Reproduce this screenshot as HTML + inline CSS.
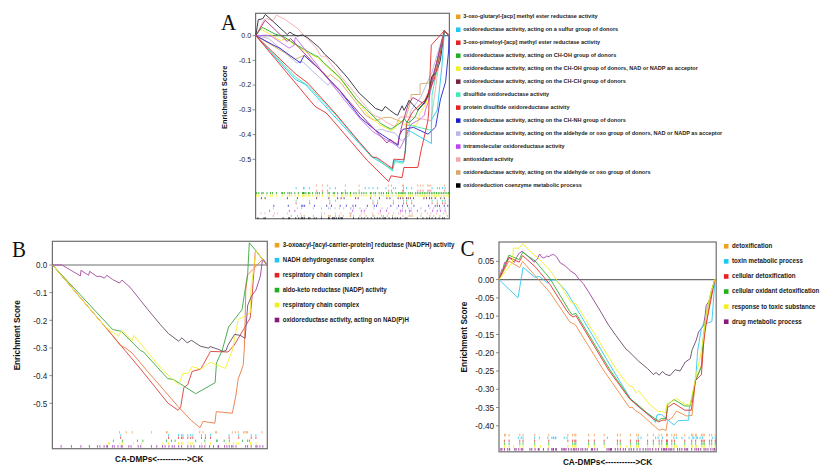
<!DOCTYPE html>
<html><head><meta charset="utf-8"><style>
html,body{margin:0;padding:0;background:#fff;width:827px;height:472px;overflow:hidden}
svg{display:block;font-family:"Liberation Sans", sans-serif}
</style></head><body>
<svg width="827" height="472" viewBox="0 0 827 472">
<text transform="translate(221 29.6) scale(0.9009 1)" font-size="23.3" font-family="Liberation Serif, serif" fill="#111">A</text>
<rect x="255.6" y="13.3" width="193.79999999999998" height="205.39999999999998" fill="none" stroke="#6e6e6e" stroke-width="1.2"/>
<line x1="255.6" y1="35.6" x2="449.4" y2="35.6" stroke="#6e6e6e" stroke-width="1.2"/>
<line x1="252.6" y1="35.6" x2="255.6" y2="35.6" stroke="#6e6e6e" stroke-width="0.8"/>
<text transform="translate(251.20 37.99) scale(0.9434 1)" font-size="7.53" text-anchor="end" fill="#222">0.0</text>
<line x1="252.6" y1="60.35" x2="255.6" y2="60.35" stroke="#6e6e6e" stroke-width="0.8"/>
<text transform="translate(251.20 62.74) scale(0.9434 1)" font-size="7.53" text-anchor="end" fill="#222">-0.1</text>
<line x1="252.6" y1="85.1" x2="255.6" y2="85.1" stroke="#6e6e6e" stroke-width="0.8"/>
<text transform="translate(251.20 87.49) scale(0.9434 1)" font-size="7.53" text-anchor="end" fill="#222">-0.2</text>
<line x1="252.6" y1="109.85" x2="255.6" y2="109.85" stroke="#6e6e6e" stroke-width="0.8"/>
<text transform="translate(251.20 112.24) scale(0.9434 1)" font-size="7.53" text-anchor="end" fill="#222">-0.3</text>
<line x1="252.6" y1="134.6" x2="255.6" y2="134.6" stroke="#6e6e6e" stroke-width="0.8"/>
<text transform="translate(251.20 136.99) scale(0.9434 1)" font-size="7.53" text-anchor="end" fill="#222">-0.4</text>
<line x1="252.6" y1="159.35" x2="255.6" y2="159.35" stroke="#6e6e6e" stroke-width="0.8"/>
<text transform="translate(251.20 161.74) scale(0.9434 1)" font-size="7.53" text-anchor="end" fill="#222">-0.5</text>
<text transform="translate(227.36 97.30) rotate(-90) scale(0.9615 1)" font-size="7.70" text-anchor="middle" font-weight="bold" fill="#111">Enrichment Score</text>
<rect x="456.0" y="14.50" width="4.5" height="4.5" fill="#f0a020"/>
<text transform="translate(463.20 18.34) scale(1.0000 1)" font-size="5.55" text-anchor="start" font-weight="bold" fill="#222">3-oxo-glutaryl-[acp] methyl ester reductase activity</text>
<rect x="456.0" y="27.48" width="4.5" height="4.5" fill="#20c8f0"/>
<text transform="translate(463.20 31.32) scale(1.0000 1)" font-size="5.55" text-anchor="start" font-weight="bold" fill="#222">oxidoreductase activity, acting on a sulfur group of donors</text>
<rect x="456.0" y="40.46" width="4.5" height="4.5" fill="#e82020"/>
<text transform="translate(463.20 44.30) scale(1.0000 1)" font-size="5.55" text-anchor="start" font-weight="bold" fill="#222">3-oxo-pimeloyl-[acp] methyl ester reductase activity</text>
<rect x="456.0" y="53.44" width="4.5" height="4.5" fill="#20b020"/>
<text transform="translate(463.20 57.28) scale(1.0000 1)" font-size="5.55" text-anchor="start" font-weight="bold" fill="#222">oxidoreductase activity, acting on CH-OH group of donors</text>
<rect x="456.0" y="66.42" width="4.5" height="4.5" fill="#f0f020"/>
<text transform="translate(463.20 70.26) scale(1.0000 1)" font-size="5.55" text-anchor="start" font-weight="bold" fill="#222">oxidoreductase activity, acting on the CH-OH group of donors, NAD or NADP as acceptor</text>
<rect x="456.0" y="79.40" width="4.5" height="4.5" fill="#7a1f3d"/>
<text transform="translate(463.20 83.24) scale(1.0000 1)" font-size="5.55" text-anchor="start" font-weight="bold" fill="#222">oxidoreductase activity, acting on the CH-CH group of donors</text>
<rect x="456.0" y="92.38" width="4.5" height="4.5" fill="#40e8b8"/>
<text transform="translate(463.20 96.22) scale(1.0000 1)" font-size="5.55" text-anchor="start" font-weight="bold" fill="#222">disulfide oxidoreductase activity</text>
<rect x="456.0" y="105.36" width="4.5" height="4.5" fill="#e82020"/>
<text transform="translate(463.20 109.20) scale(1.0000 1)" font-size="5.55" text-anchor="start" font-weight="bold" fill="#222">protein disulfide oxidoreductase activity</text>
<rect x="456.0" y="118.34" width="4.5" height="4.5" fill="#1c1cc8"/>
<text transform="translate(463.20 122.18) scale(1.0000 1)" font-size="5.55" text-anchor="start" font-weight="bold" fill="#222">oxidoreductase activity, acting on the CH-NH group of donors</text>
<rect x="456.0" y="131.32" width="4.5" height="4.5" fill="#b8b8e8"/>
<text transform="translate(463.20 135.16) scale(1.0000 1)" font-size="5.55" text-anchor="start" font-weight="bold" fill="#222">oxidoreductase activity, acting on the aldehyde or oxo group of donors, NAD or NADP as acceptor</text>
<rect x="456.0" y="144.30" width="4.5" height="4.5" fill="#c040f0"/>
<text transform="translate(463.20 148.14) scale(1.0000 1)" font-size="5.55" text-anchor="start" font-weight="bold" fill="#222">intramolecular oxidoreductase activity</text>
<rect x="456.0" y="157.28" width="4.5" height="4.5" fill="#f4a8a8"/>
<text transform="translate(463.20 161.12) scale(1.0000 1)" font-size="5.55" text-anchor="start" font-weight="bold" fill="#222">antioxidant activity</text>
<rect x="456.0" y="170.26" width="4.5" height="4.5" fill="#d8a868"/>
<text transform="translate(463.20 174.10) scale(1.0000 1)" font-size="5.55" text-anchor="start" font-weight="bold" fill="#222">oxidoreductase activity, acting on the aldehyde or oxo group of donors</text>
<rect x="456.0" y="183.24" width="4.5" height="4.5" fill="#000000"/>
<text transform="translate(463.20 187.08) scale(1.0000 1)" font-size="5.55" text-anchor="start" font-weight="bold" fill="#222">oxidoreduction coenzyme metabolic process</text>
<text transform="translate(12 256.7) scale(0.9009 1)" font-size="23.3" font-family="Liberation Serif, serif" fill="#111">B</text>
<rect x="52.4" y="241.3" width="214.9" height="207.39999999999998" fill="none" stroke="#6e6e6e" stroke-width="1.2"/>
<line x1="52.4" y1="265.0" x2="267.3" y2="265.0" stroke="#6e6e6e" stroke-width="1.2"/>
<line x1="49.4" y1="265.0" x2="52.4" y2="265.0" stroke="#6e6e6e" stroke-width="0.8"/>
<text transform="translate(47.30 268.33) scale(0.8696 1)" font-size="9.31" text-anchor="end" fill="#222">0.0</text>
<line x1="49.4" y1="292.66" x2="52.4" y2="292.66" stroke="#6e6e6e" stroke-width="0.8"/>
<text transform="translate(47.30 295.99) scale(0.8696 1)" font-size="9.31" text-anchor="end" fill="#222">-0.1</text>
<line x1="49.4" y1="320.32" x2="52.4" y2="320.32" stroke="#6e6e6e" stroke-width="0.8"/>
<text transform="translate(47.30 323.65) scale(0.8696 1)" font-size="9.31" text-anchor="end" fill="#222">-0.2</text>
<line x1="49.4" y1="347.98" x2="52.4" y2="347.98" stroke="#6e6e6e" stroke-width="0.8"/>
<text transform="translate(47.30 351.31) scale(0.8696 1)" font-size="9.31" text-anchor="end" fill="#222">-0.3</text>
<line x1="49.4" y1="375.64" x2="52.4" y2="375.64" stroke="#6e6e6e" stroke-width="0.8"/>
<text transform="translate(47.30 378.97) scale(0.8696 1)" font-size="9.31" text-anchor="end" fill="#222">-0.4</text>
<line x1="49.4" y1="403.3" x2="52.4" y2="403.3" stroke="#6e6e6e" stroke-width="0.8"/>
<text transform="translate(47.30 406.63) scale(0.8696 1)" font-size="9.31" text-anchor="end" fill="#222">-0.5</text>
<text transform="translate(20.38 335.30) rotate(-90) scale(0.8696 1)" font-size="9.43" text-anchor="middle" font-weight="bold" fill="#111">Enrichment Score</text>
<text transform="translate(159.30 461.90) scale(0.8696 1)" font-size="9.41" text-anchor="middle" font-weight="bold" fill="#111">CA-DMPs&lt;-----------&gt;CK</text>
<rect x="274.7" y="242.90" width="4.6" height="4.6" fill="#f0a020"/>
<text transform="translate(282.70 247.13) scale(0.9434 1)" font-size="6.52" text-anchor="start" font-weight="bold" fill="#1a1a1a">3-oxoacyl-[acyl-carrier-protein] reductase (NADPH) activity</text>
<rect x="274.7" y="257.90" width="4.6" height="4.6" fill="#20c8f0"/>
<text transform="translate(282.70 262.13) scale(0.9434 1)" font-size="6.52" text-anchor="start" font-weight="bold" fill="#1a1a1a">NADH dehydrogenase complex</text>
<rect x="274.7" y="272.90" width="4.6" height="4.6" fill="#e82020"/>
<text transform="translate(282.70 277.13) scale(0.9434 1)" font-size="6.52" text-anchor="start" font-weight="bold" fill="#1a1a1a">respiratory chain complex I</text>
<rect x="274.7" y="287.80" width="4.6" height="4.6" fill="#20b020"/>
<text transform="translate(282.70 292.03) scale(0.9434 1)" font-size="6.52" text-anchor="start" font-weight="bold" fill="#1a1a1a">aldo-keto reductase (NADP) activity</text>
<rect x="274.7" y="302.70" width="4.6" height="4.6" fill="#f0f020"/>
<text transform="translate(282.70 306.93) scale(0.9434 1)" font-size="6.52" text-anchor="start" font-weight="bold" fill="#1a1a1a">respiratory chain complex</text>
<rect x="274.7" y="317.70" width="4.6" height="4.6" fill="#8a1a7a"/>
<text transform="translate(282.70 321.93) scale(0.9434 1)" font-size="6.52" text-anchor="start" font-weight="bold" fill="#1a1a1a">oxidoreductase activity, acting on NAD(P)H</text>
<text transform="translate(460.4 255.6) scale(0.9009 1)" font-size="23.3" font-family="Liberation Serif, serif" fill="#111">C</text>
<rect x="499" y="242" width="217.20000000000005" height="209.8" fill="none" stroke="#6e6e6e" stroke-width="1.2"/>
<line x1="499" y1="279.6" x2="716.2" y2="279.6" stroke="#6e6e6e" stroke-width="1.2"/>
<line x1="496" y1="261.32000000000005" x2="499" y2="261.32000000000005" stroke="#6e6e6e" stroke-width="0.8"/>
<text transform="translate(494.20 264.39) scale(1.0000 1)" font-size="8.30" text-anchor="end" fill="#222">0.05</text>
<line x1="496" y1="279.6" x2="499" y2="279.6" stroke="#6e6e6e" stroke-width="0.8"/>
<text transform="translate(494.20 282.67) scale(1.0000 1)" font-size="8.30" text-anchor="end" fill="#222">0.00</text>
<line x1="496" y1="297.88" x2="499" y2="297.88" stroke="#6e6e6e" stroke-width="0.8"/>
<text transform="translate(494.20 300.95) scale(1.0000 1)" font-size="8.30" text-anchor="end" fill="#222">-0.05</text>
<line x1="496" y1="316.16" x2="499" y2="316.16" stroke="#6e6e6e" stroke-width="0.8"/>
<text transform="translate(494.20 319.23) scale(1.0000 1)" font-size="8.30" text-anchor="end" fill="#222">-0.10</text>
<line x1="496" y1="334.44000000000005" x2="499" y2="334.44000000000005" stroke="#6e6e6e" stroke-width="0.8"/>
<text transform="translate(494.20 337.51) scale(1.0000 1)" font-size="8.30" text-anchor="end" fill="#222">-0.15</text>
<line x1="496" y1="352.72" x2="499" y2="352.72" stroke="#6e6e6e" stroke-width="0.8"/>
<text transform="translate(494.20 355.79) scale(1.0000 1)" font-size="8.30" text-anchor="end" fill="#222">-0.20</text>
<line x1="496" y1="371.0" x2="499" y2="371.0" stroke="#6e6e6e" stroke-width="0.8"/>
<text transform="translate(494.20 374.07) scale(1.0000 1)" font-size="8.30" text-anchor="end" fill="#222">-0.25</text>
<line x1="496" y1="389.28000000000003" x2="499" y2="389.28000000000003" stroke="#6e6e6e" stroke-width="0.8"/>
<text transform="translate(494.20 392.35) scale(1.0000 1)" font-size="8.30" text-anchor="end" fill="#222">-0.30</text>
<line x1="496" y1="407.56000000000006" x2="499" y2="407.56000000000006" stroke="#6e6e6e" stroke-width="0.8"/>
<text transform="translate(494.20 410.63) scale(1.0000 1)" font-size="8.30" text-anchor="end" fill="#222">-0.35</text>
<line x1="496" y1="425.84000000000003" x2="499" y2="425.84000000000003" stroke="#6e6e6e" stroke-width="0.8"/>
<text transform="translate(494.20 428.91) scale(1.0000 1)" font-size="8.30" text-anchor="end" fill="#222">-0.40</text>
<text transform="translate(467.22 337.00) rotate(-90) scale(0.8696 1)" font-size="9.54" text-anchor="middle" font-weight="bold" fill="#111">Enrichment Score</text>
<text transform="translate(607.50 464.90) scale(0.8696 1)" font-size="9.49" text-anchor="middle" font-weight="bold" fill="#111">CA-DMPs&lt;-----------&gt;CK</text>
<rect x="723.9" y="244.00" width="4.6" height="4.6" fill="#f0a020"/>
<text transform="translate(732.00 248.25) scale(0.9434 1)" font-size="6.57" text-anchor="start" font-weight="bold" fill="#1a1a1a">detoxification</text>
<rect x="723.9" y="259.08" width="4.6" height="4.6" fill="#20c8f0"/>
<text transform="translate(732.00 263.33) scale(0.9434 1)" font-size="6.57" text-anchor="start" font-weight="bold" fill="#1a1a1a">toxin metabolic process</text>
<rect x="723.9" y="274.16" width="4.6" height="4.6" fill="#e82020"/>
<text transform="translate(732.00 278.41) scale(0.9434 1)" font-size="6.57" text-anchor="start" font-weight="bold" fill="#1a1a1a">cellular detoxification</text>
<rect x="723.9" y="289.24" width="4.6" height="4.6" fill="#20b020"/>
<text transform="translate(732.00 293.49) scale(0.9434 1)" font-size="6.57" text-anchor="start" font-weight="bold" fill="#1a1a1a">cellular oxidant detoxification</text>
<rect x="723.9" y="304.32" width="4.6" height="4.6" fill="#f0f020"/>
<text transform="translate(732.00 308.57) scale(0.9434 1)" font-size="6.57" text-anchor="start" font-weight="bold" fill="#1a1a1a">response to toxic substance</text>
<rect x="723.9" y="319.40" width="4.6" height="4.6" fill="#8a1a7a"/>
<text transform="translate(732.00 323.65) scale(0.9434 1)" font-size="6.57" text-anchor="start" font-weight="bold" fill="#1a1a1a">drug metabolic process</text>
<defs><linearGradient id="gB" gradientUnits="userSpaceOnUse" x1="52" y1="0" x2="267" y2="0"><stop offset="0" stop-color="#a84aa0"/><stop offset="0.36" stop-color="#a04a98"/><stop offset="0.55" stop-color="#5e4a5e"/><stop offset="0.86" stop-color="#5e4a5e"/><stop offset="0.96" stop-color="#a040a0"/></linearGradient><linearGradient id="gC" gradientUnits="userSpaceOnUse" x1="499" y1="0" x2="716" y2="0"><stop offset="0" stop-color="#a840a8"/><stop offset="0.40" stop-color="#a040a0"/><stop offset="0.54" stop-color="#644864"/><stop offset="0.88" stop-color="#644864"/><stop offset="0.98" stop-color="#9a40a0"/></linearGradient></defs>
<polyline points="255.8,35.6 268.6,38.4 297.2,63.3 300.0,61.5 303.3,62.4 328.1,85.3 330.3,82.5 375.7,130.5 382.0,129.2 386.0,131.0 395.0,133.0 401.4,140.8 409.0,135.7 410.3,111.5 420.5,97.5 432.0,72.0 444.4,30.6 449.0,35.6" fill="none" stroke="#b4b4e6" stroke-width="0.9" stroke-linejoin="round" stroke-opacity="1"/>
<polyline points="255.8,35.6 264.0,19.8 266.0,18.6 273.2,20.6 276.4,15.1 285.5,19.8 297.4,28.3 306.7,38.0 316.0,47.7 320.7,55.9 323.2,57.2 325.0,55.8 335.0,69.0 360.4,100.0 373.1,115.0 377.0,116.5 380.8,117.8 385.8,122.0 395.0,126.7 400.0,117.0 411.0,116.8 428.0,120.2 431.0,121.0 434.0,100.0 438.0,70.0 444.4,30.6 449.0,35.6" fill="none" stroke="#f6a9a9" stroke-width="0.9" stroke-linejoin="round" stroke-opacity="1"/>
<polyline points="255.8,35.6 295.3,59.1 301.6,56.5 304.2,55.3 328.3,76.9 330.2,74.3 340.0,82.0 354.0,100.0 365.5,115.0 373.1,119.7 377.0,120.3 383.3,117.8 390.0,117.2 402.0,122.0 406.0,117.0 411.1,100.0 411.1,94.5 420.1,94.5 420.1,83.9 429.7,82.8 436.0,66.0 444.4,30.6 449.0,35.6" fill="none" stroke="#d9a866" stroke-width="0.9" stroke-linejoin="round" stroke-opacity="1"/>
<polyline points="255.8,35.6 259.5,29.5 262.6,30.0 268.6,33.4 276.0,38.0 280.4,40.6 283.0,39.5 287.0,39.0 290.0,41.5 306.0,52.0 318.0,58.0 340.0,78.5 369.0,116.0 380.0,125.0 390.9,130.5 395.0,128.0 399.0,121.0 403.0,124.0 415.3,125.7 418.0,122.0 420.0,113.0 426.0,104.0 432.0,78.0 437.0,66.0 444.4,30.6 449.0,35.6" fill="none" stroke="#f2f020" stroke-width="0.9" stroke-linejoin="round" stroke-opacity="1"/>
<polyline points="255.8,35.6 261.8,27.4 263.5,28.0 275.3,34.2 283.8,36.7 288.9,40.1 295.0,44.0 306.7,50.8 315.6,55.9 318.1,56.5 323.2,62.2 340.0,77.5 356.6,100.0 370.0,113.0 380.8,123.5 385.0,126.0 390.9,129.2 396.4,125.5 401.4,122.3 404.2,118.5 407.6,123.1 411.0,121.0 415.0,117.0 419.2,107.7 424.0,104.0 429.4,95.0 436.0,66.0 444.4,30.6 449.0,35.6" fill="none" stroke="#22b022" stroke-width="0.9" stroke-linejoin="round" stroke-opacity="1"/>
<polyline points="255.8,35.6 265.8,35.2 271.0,36.0 289.0,48.1 293.8,45.5 295.4,37.3 297.5,40.0 318.0,66.0 335.0,88.0 344.5,100.0 360.4,119.0 373.1,131.8 385.8,139.4 395.0,144.5 400.0,148.5 406.8,134.6 411.0,124.4 421.2,118.5 424.5,115.0 425.4,110.0 428.1,102.6 436.0,66.0 444.4,30.6 449.0,35.6" fill="none" stroke="#c46af2" stroke-width="0.9" stroke-linejoin="round" stroke-opacity="1"/>
<polyline points="255.8,35.6 272.0,44.4 280.0,48.3 300.3,62.9 302.2,59.0 304.2,55.5 318.1,68.0 340.0,90.8 360.4,117.8 375.7,130.5 398.1,145.3 399.4,135.0 403.0,129.3 413.6,127.4 428.0,134.2 435.6,127.0 440.3,100.0 445.6,81.8 448.7,50.0 449.0,35.6" fill="none" stroke="#2424c8" stroke-width="0.9" stroke-linejoin="round" stroke-opacity="1"/>
<polyline points="255.8,35.6 265.2,20.2 287.2,41.4 290.6,38.5 318.1,68.0 340.0,90.8 360.0,114.0 375.0,130.0 387.0,143.0 390.0,139.5 397.6,144.6 402.0,125.0 408.0,105.0 412.9,97.5 424.3,103.9 428.0,95.0 436.0,65.0 444.4,30.6 449.0,35.6" fill="none" stroke="#b03084" stroke-width="0.9" stroke-linejoin="round" stroke-opacity="1"/>
<polyline points="255.8,35.6 258.3,19.7 262.8,18.7 265.4,14.4 287.3,34.6 289.8,32.0 293.1,34.4 297.3,36.0 302.4,34.9 307.5,37.6 313.5,42.7 319.4,47.7 324.5,54.0 335.0,63.5 347.7,77.9 359.2,93.1 365.5,98.9 375.7,108.6 379.0,109.6 382.0,111.0 385.2,106.5 390.0,110.3 395.0,114.0 397.6,115.3 402.1,105.8 404.0,110.3 407.2,104.5 409.0,100.3 418.0,110.3 423.7,103.3 428.1,95.0 431.8,76.5 436.0,73.0 440.3,60.6 444.4,30.6 449.0,35.6" fill="none" stroke="#2a2a3a" stroke-width="0.9" stroke-linejoin="round" stroke-opacity="1"/>
<polyline points="255.8,35.6 295.3,79.4 305.4,84.5 335.0,117.0 371.4,156.7 392.4,169.4 393.5,160.5 403.9,161.8 407.3,130.0 410.2,131.2 431.4,143.5 431.4,120.0 437.3,110.0 442.0,65.0 444.4,30.6 449.0,35.6" fill="none" stroke="#22c6f0" stroke-width="0.9" stroke-linejoin="round" stroke-opacity="1"/>
<polyline points="255.8,35.6 295.3,77.0 308.0,85.5 335.0,114.0 370.6,155.9 377.0,158.5 392.4,171.0 394.8,161.5 403.2,163.3 405.5,150.0 406.5,125.5 410.2,125.3 431.4,130.3 432.0,110.0 432.0,95.0 438.0,65.0 444.4,30.6 449.0,35.6" fill="none" stroke="#3ee6b6" stroke-width="0.9" stroke-linejoin="round" stroke-opacity="1"/>
<polyline points="255.8,35.6 280.0,59.1 295.3,73.7 308.0,83.2 323.2,100.0 335.0,113.0 360.0,142.7 372.7,157.3 376.5,157.3 392.4,168.5 393.8,159.2 403.9,159.8 405.5,150.0 406.4,123.6 412.7,111.7 425.0,100.0 434.0,80.0 440.0,55.0 444.4,30.6 449.0,35.6" fill="none" stroke="#e62a2a" stroke-width="0.9" stroke-linejoin="round" stroke-opacity="1"/>
<polyline points="255.8,35.6 313.8,105.0 316.0,107.0 320.3,109.5 326.2,112.9 335.0,122.9 366.8,160.0 388.6,181.5 391.1,175.8 402.0,177.7 403.9,167.5 417.8,167.5 421.2,150.0 425.4,132.0 428.0,120.0 428.8,110.0 429.7,81.8 431.3,45.2 444.4,30.6 449.0,35.6" fill="none" stroke="#e62a2a" stroke-width="0.9" stroke-linejoin="round" stroke-opacity="1"/>
<polyline points="52.5,265.0 110.0,332.5 141.4,370.0 168.0,403.2 178.1,410.2 180.7,407.0 183.9,387.3 187.7,384.8 192.1,371.4 200.7,369.2 210.5,351.4 228.0,352.0 234.3,345.0 250.2,318.0 252.1,296.4 255.3,252.0 255.9,250.7 267.0,265.0" fill="none" stroke="#dc3c3c" stroke-width="0.9" stroke-linejoin="round" stroke-opacity="1"/>
<polyline points="52.5,265.0 110.0,332.5 120.2,345.3 125.3,347.8 132.0,352.9 146.4,370.0 178.1,406.5 190.8,420.0 200.0,427.7 203.0,421.3 214.8,423.2 216.3,411.7 232.3,413.2 236.0,395.0 238.1,379.3 243.2,365.3 244.5,345.0 245.8,290.0 247.7,274.9 262.3,259.6 267.0,265.0" fill="none" stroke="#ec7a40" stroke-width="0.9" stroke-linejoin="round" stroke-opacity="1"/>
<polyline points="52.5,265.0 112.7,329.6 113.5,329.7 121.1,331.2 140.6,350.7 143.1,351.5 167.7,378.6 173.6,379.5 195.7,393.7 215.1,382.7 216.5,362.8 222.3,350.0 228.6,326.9 242.0,309.7 245.1,290.0 247.7,273.6 249.3,242.8 255.9,250.7 262.3,259.0 267.0,265.0" fill="none" stroke="#3aa640" stroke-width="0.9" stroke-linejoin="round" stroke-opacity="1"/>
<polyline points="52.5,265.0 105.0,326.7 118.6,336.3 122.0,330.3 132.1,340.5 133.8,335.4 162.6,370.2 178.7,384.6 183.0,373.4 188.0,373.4 192.2,366.6 200.7,369.2 210.2,362.3 225.4,368.4 232.4,350.0 238.1,319.9 250.2,312.9 250.9,290.0 255.9,250.7 262.3,259.0 267.0,265.0" fill="none" stroke="#f0f030" stroke-width="0.9" stroke-linejoin="round" stroke-opacity="1"/>
<polyline points="52.5,265.0 61.9,265.0 80.4,275.9 81.0,270.3 88.6,275.3 89.6,271.3 97.0,276.5 99.8,276.2 104.5,278.1 106.8,275.3 112.7,279.6 119.5,283.0 122.0,280.1 130.0,287.2 148.2,310.0 160.0,324.2 168.5,333.6 178.6,341.2 182.0,337.8 187.1,342.9 191.4,340.3 200.7,346.3 208.9,348.2 210.0,346.5 219.3,349.7 222.7,351.4 226.1,350.5 227.8,345.4 234.6,334.4 240.0,335.3 245.1,338.3 247.7,305.3 251.5,296.0 255.9,290.1 260.4,276.1 262.3,260.9 263.6,259.6 267.0,265.0" fill="none" stroke="url(#gB)" stroke-width="0.9" stroke-linejoin="round" stroke-opacity="1"/>
<polyline points="499.0,279.6 501.7,269.6 503.0,269.0 504.6,262.4 506.5,261.8 508.9,257.4 511.5,259.5 514.3,262.4 516.5,257.7 518.6,253.8 522.2,251.2 532.0,260.0 533.9,262.2 536.0,260.5 537.5,258.5 539.6,254.0 541.5,257.0 544.0,258.0 546.5,256.0 549.0,256.8 550.5,255.2 553.7,254.5 556.7,257.0 560.4,263.0 564.8,265.5 570.8,271.1 575.2,274.1 579.7,280.0 583.4,283.7 588.6,291.9 599.7,310.0 608.6,325.2 616.0,335.6 626.7,350.0 627.8,350.4 638.6,361.1 647.5,368.5 653.4,374.5 656.0,372.5 659.3,375.2 662.3,371.5 666.0,374.5 670.0,375.6 675.1,369.7 680.0,371.0 685.3,362.0 690.3,358.6 692.0,350.2 696.3,340.0 698.6,331.9 702.0,327.6 703.5,325.5 705.2,314.9 706.2,305.3 709.0,301.5 711.0,296.0 712.5,288.0 715.0,279.0" fill="none" stroke="url(#gC)" stroke-width="0.9" stroke-linejoin="round" stroke-opacity="1"/>
<polyline points="499.0,279.6 508.9,261.1 519.6,267.4 522.6,261.5 550.0,292.6 570.0,322.2 575.2,324.5 603.4,370.0 629.7,407.8 632.0,407.0 635.6,410.8 640.0,413.3 659.1,430.3 662.2,429.2 666.0,430.3 667.5,420.7 671.8,418.1 676.5,411.2 686.6,416.0 692.0,415.4 695.4,380.7 701.4,365.4 705.0,330.0 712.0,290.0 715.0,279.0" fill="none" stroke="#f08a40" stroke-width="0.9" stroke-linejoin="round" stroke-opacity="1"/>
<polyline points="499.0,279.6 518.0,297.8 523.1,267.3 535.1,277.5 539.0,276.2 547.8,283.2 551.0,280.0 555.9,280.0 566.3,291.2 613.0,370.0 629.7,397.5 638.6,407.1 650.6,415.4 655.4,422.3 657.0,414.9 661.2,414.4 666.5,418.6 673.9,425.0 678.1,420.7 688.7,420.2 689.3,408.0 693.0,395.0 696.0,375.0 697.6,351.0 701.4,328.2 703.3,324.4 711.9,321.5 715.0,279.0" fill="none" stroke="#30c8f0" stroke-width="0.9" stroke-linejoin="round" stroke-opacity="1"/>
<polyline points="499.0,279.6 508.9,255.2 519.2,259.6 522.6,252.2 535.1,261.0 550.0,278.6 570.0,311.9 572.2,314.8 575.9,313.3 610.0,370.0 631.1,399.7 637.1,404.1 648.5,414.4 658.5,420.7 661.2,418.6 666.0,418.6 667.5,404.8 673.9,399.5 684.5,405.9 690.0,406.0 695.4,381.0 701.4,367.1 703.0,340.0 706.0,315.0 711.0,292.0 715.0,279.0" fill="none" stroke="#30b030" stroke-width="0.9" stroke-linejoin="round" stroke-opacity="1"/>
<polyline points="499.0,279.6 509.2,257.4 519.2,262.2 522.6,255.6 535.1,266.7 550.0,284.5 566.3,310.0 570.0,314.8 573.0,317.0 575.9,315.6 608.6,370.0 629.7,399.0 653.4,419.0 658.5,421.8 662.8,420.2 666.0,420.2 667.5,407.5 673.9,403.2 684.5,410.1 691.2,410.3 695.4,380.7 701.4,374.7 703.9,340.0 706.0,325.0 715.0,279.0" fill="none" stroke="#e03030" stroke-width="0.9" stroke-linejoin="round" stroke-opacity="1"/>
<polyline points="499.0,279.6 512.6,262.0 513.3,248.2 519.2,248.2 522.6,243.7 535.1,255.9 537.5,257.2 547.8,268.0 550.0,270.4 561.9,287.5 570.8,302.3 576.0,303.8 616.7,370.0 628.2,384.9 630.0,386.5 632.0,386.0 636.3,393.0 638.6,390.8 649.5,404.3 654.9,408.6 658.5,411.7 661.2,411.2 665.4,412.8 667.0,403.8 670.7,402.2 676.5,398.5 684.5,404.3 687.0,404.4 690.0,405.4 695.4,379.0 700.5,355.3 703.0,340.0 706.0,315.0 711.0,292.0 715.0,279.0" fill="none" stroke="#f0f028" stroke-width="0.9" stroke-linejoin="round" stroke-opacity="1"/>
<rect x="316.1" y="184.6" width="1.0" height="2.0" fill="#f0a070" fill-opacity="0.8"/>
<rect x="321.9" y="184.6" width="1.0" height="2.0" fill="#f0a070" fill-opacity="0.8"/>
<rect x="327.1" y="184.6" width="1.0" height="2.0" fill="#f0a070" fill-opacity="0.8"/>
<rect x="344.9" y="184.6" width="1.0" height="2.0" fill="#f0a070" fill-opacity="0.8"/>
<rect x="358.6" y="184.6" width="1.0" height="2.0" fill="#f0a070" fill-opacity="0.8"/>
<rect x="388.1" y="184.6" width="1.0" height="2.0" fill="#f0a070" fill-opacity="0.8"/>
<rect x="391.0" y="184.6" width="1.0" height="2.0" fill="#f0a070" fill-opacity="0.8"/>
<rect x="402.1" y="184.6" width="1.0" height="2.0" fill="#f0a070" fill-opacity="0.8"/>
<rect x="403.0" y="184.6" width="1.0" height="2.0" fill="#f0a070" fill-opacity="0.8"/>
<rect x="417.3" y="184.6" width="1.0" height="2.0" fill="#f0a070" fill-opacity="0.8"/>
<rect x="419.9" y="184.6" width="1.0" height="2.0" fill="#f0a070" fill-opacity="0.8"/>
<rect x="422.5" y="184.6" width="1.0" height="2.0" fill="#f0a070" fill-opacity="0.8"/>
<rect x="427.3" y="184.6" width="1.0" height="2.0" fill="#f0a070" fill-opacity="0.8"/>
<rect x="428.6" y="184.6" width="1.0" height="2.0" fill="#f0a070" fill-opacity="0.8"/>
<rect x="430.3" y="184.6" width="1.0" height="2.0" fill="#f0a070" fill-opacity="0.8"/>
<rect x="444.2" y="184.6" width="1.0" height="2.0" fill="#f0a070" fill-opacity="0.8"/>
<rect x="295.6" y="187.2" width="1.0" height="2.0" fill="#30c0f0" fill-opacity="0.8"/>
<rect x="303.0" y="187.2" width="1.0" height="2.0" fill="#30c0f0" fill-opacity="0.8"/>
<rect x="303.7" y="187.2" width="1.0" height="2.0" fill="#30c0f0" fill-opacity="0.8"/>
<rect x="309.1" y="187.2" width="1.0" height="2.0" fill="#30c0f0" fill-opacity="0.8"/>
<rect x="329.3" y="187.2" width="1.0" height="2.0" fill="#30c0f0" fill-opacity="0.8"/>
<rect x="334.9" y="187.2" width="1.0" height="2.0" fill="#30c0f0" fill-opacity="0.8"/>
<rect x="364.7" y="187.2" width="1.0" height="2.0" fill="#30c0f0" fill-opacity="0.8"/>
<rect x="368.6" y="187.2" width="1.0" height="2.0" fill="#30c0f0" fill-opacity="0.8"/>
<rect x="372.5" y="187.2" width="1.0" height="2.0" fill="#30c0f0" fill-opacity="0.8"/>
<rect x="377.1" y="187.2" width="1.0" height="2.0" fill="#30c0f0" fill-opacity="0.8"/>
<rect x="385.5" y="187.2" width="1.0" height="2.0" fill="#30c0f0" fill-opacity="0.8"/>
<rect x="392.9" y="187.2" width="1.0" height="2.0" fill="#30c0f0" fill-opacity="0.8"/>
<rect x="395.1" y="187.2" width="1.0" height="2.0" fill="#30c0f0" fill-opacity="0.8"/>
<rect x="403.0" y="187.2" width="1.0" height="2.0" fill="#30c0f0" fill-opacity="0.8"/>
<rect x="406.0" y="187.2" width="1.0" height="2.0" fill="#30c0f0" fill-opacity="0.8"/>
<rect x="411.2" y="187.2" width="1.0" height="2.0" fill="#30c0f0" fill-opacity="0.8"/>
<rect x="431.6" y="187.2" width="1.0" height="2.0" fill="#30c0f0" fill-opacity="0.8"/>
<rect x="436.8" y="187.2" width="1.0" height="2.0" fill="#30c0f0" fill-opacity="0.8"/>
<rect x="439.0" y="187.2" width="1.0" height="2.0" fill="#30c0f0" fill-opacity="0.8"/>
<rect x="442.0" y="187.2" width="1.0" height="2.0" fill="#30c0f0" fill-opacity="0.8"/>
<rect x="444.6" y="187.2" width="1.0" height="2.0" fill="#30c0f0" fill-opacity="0.8"/>
<rect x="316.1" y="189.7" width="1.0" height="2.0" fill="#f07070" fill-opacity="0.8"/>
<rect x="321.9" y="189.7" width="1.0" height="2.0" fill="#f07070" fill-opacity="0.8"/>
<rect x="327.1" y="189.7" width="1.0" height="2.0" fill="#f07070" fill-opacity="0.8"/>
<rect x="344.9" y="189.7" width="1.0" height="2.0" fill="#f07070" fill-opacity="0.8"/>
<rect x="358.6" y="189.7" width="1.0" height="2.0" fill="#f07070" fill-opacity="0.8"/>
<rect x="388.1" y="189.7" width="1.0" height="2.0" fill="#f07070" fill-opacity="0.8"/>
<rect x="391.0" y="189.7" width="1.0" height="2.0" fill="#f07070" fill-opacity="0.8"/>
<rect x="402.1" y="189.7" width="1.0" height="2.0" fill="#f07070" fill-opacity="0.8"/>
<rect x="403.0" y="189.7" width="1.0" height="2.0" fill="#f07070" fill-opacity="0.8"/>
<rect x="417.3" y="189.7" width="1.0" height="2.0" fill="#f07070" fill-opacity="0.8"/>
<rect x="419.9" y="189.7" width="1.0" height="2.0" fill="#f07070" fill-opacity="0.8"/>
<rect x="422.5" y="189.7" width="1.0" height="2.0" fill="#f07070" fill-opacity="0.8"/>
<rect x="427.3" y="189.7" width="1.0" height="2.0" fill="#f07070" fill-opacity="0.8"/>
<rect x="428.6" y="189.7" width="1.0" height="2.0" fill="#f07070" fill-opacity="0.8"/>
<rect x="430.3" y="189.7" width="1.0" height="2.0" fill="#f07070" fill-opacity="0.8"/>
<rect x="444.2" y="189.7" width="1.0" height="2.0" fill="#f07070" fill-opacity="0.8"/>
<rect x="256.1" y="192.1" width="1.0" height="2.0" fill="#10a010" fill-opacity="0.8"/>
<rect x="258.3" y="192.1" width="1.0" height="2.0" fill="#10a010" fill-opacity="0.8"/>
<rect x="261.3" y="192.1" width="1.0" height="2.0" fill="#10a010" fill-opacity="0.8"/>
<rect x="262.6" y="192.1" width="1.0" height="2.0" fill="#10a010" fill-opacity="0.8"/>
<rect x="266.5" y="192.1" width="1.0" height="2.0" fill="#10a010" fill-opacity="0.8"/>
<rect x="270.0" y="192.1" width="1.0" height="2.0" fill="#10a010" fill-opacity="0.8"/>
<rect x="271.9" y="192.1" width="1.0" height="2.0" fill="#10a010" fill-opacity="0.8"/>
<rect x="275.9" y="192.1" width="1.0" height="2.0" fill="#10a010" fill-opacity="0.8"/>
<rect x="281.3" y="192.1" width="1.0" height="2.0" fill="#10a010" fill-opacity="0.8"/>
<rect x="282.1" y="192.1" width="1.0" height="2.0" fill="#10a010" fill-opacity="0.8"/>
<rect x="283.9" y="192.1" width="1.0" height="2.0" fill="#10a010" fill-opacity="0.8"/>
<rect x="287.4" y="192.1" width="1.0" height="2.0" fill="#10a010" fill-opacity="0.8"/>
<rect x="289.1" y="192.1" width="1.0" height="2.0" fill="#10a010" fill-opacity="0.8"/>
<rect x="290.8" y="192.1" width="1.0" height="2.0" fill="#10a010" fill-opacity="0.8"/>
<rect x="294.3" y="192.1" width="1.0" height="2.0" fill="#10a010" fill-opacity="0.8"/>
<rect x="297.8" y="192.1" width="1.0" height="2.0" fill="#10a010" fill-opacity="0.8"/>
<rect x="302.1" y="192.1" width="1.0" height="2.0" fill="#10a010" fill-opacity="0.8"/>
<rect x="303.0" y="192.1" width="1.0" height="2.0" fill="#10a010" fill-opacity="0.8"/>
<rect x="302.4" y="192.1" width="1.0" height="2.0" fill="#10a010" fill-opacity="0.8"/>
<rect x="303.7" y="192.1" width="1.0" height="2.0" fill="#10a010" fill-opacity="0.8"/>
<rect x="305.4" y="192.1" width="1.0" height="2.0" fill="#10a010" fill-opacity="0.8"/>
<rect x="308.0" y="192.1" width="1.0" height="2.0" fill="#10a010" fill-opacity="0.8"/>
<rect x="309.3" y="192.1" width="1.0" height="2.0" fill="#10a010" fill-opacity="0.8"/>
<rect x="311.9" y="192.1" width="1.0" height="2.0" fill="#10a010" fill-opacity="0.8"/>
<rect x="315.4" y="192.1" width="1.0" height="2.0" fill="#10a010" fill-opacity="0.8"/>
<rect x="317.1" y="192.1" width="1.0" height="2.0" fill="#10a010" fill-opacity="0.8"/>
<rect x="318.9" y="192.1" width="1.0" height="2.0" fill="#10a010" fill-opacity="0.8"/>
<rect x="321.9" y="192.1" width="1.0" height="2.0" fill="#10a010" fill-opacity="0.8"/>
<rect x="327.5" y="192.1" width="1.0" height="2.0" fill="#10a010" fill-opacity="0.8"/>
<rect x="328.8" y="192.1" width="1.0" height="2.0" fill="#10a010" fill-opacity="0.8"/>
<rect x="332.8" y="192.1" width="1.0" height="2.0" fill="#10a010" fill-opacity="0.8"/>
<rect x="334.1" y="192.1" width="1.0" height="2.0" fill="#10a010" fill-opacity="0.8"/>
<rect x="337.1" y="192.1" width="1.0" height="2.0" fill="#10a010" fill-opacity="0.8"/>
<rect x="341.0" y="192.1" width="1.0" height="2.0" fill="#10a010" fill-opacity="0.8"/>
<rect x="342.3" y="192.1" width="1.0" height="2.0" fill="#10a010" fill-opacity="0.8"/>
<rect x="344.9" y="192.1" width="1.0" height="2.0" fill="#10a010" fill-opacity="0.8"/>
<rect x="346.6" y="192.1" width="1.0" height="2.0" fill="#10a010" fill-opacity="0.8"/>
<rect x="350.1" y="192.1" width="1.0" height="2.0" fill="#10a010" fill-opacity="0.8"/>
<rect x="349.9" y="192.1" width="1.0" height="2.0" fill="#10a010" fill-opacity="0.8"/>
<rect x="353.4" y="192.1" width="1.0" height="2.0" fill="#10a010" fill-opacity="0.8"/>
<rect x="355.6" y="192.1" width="1.0" height="2.0" fill="#10a010" fill-opacity="0.8"/>
<rect x="358.6" y="192.1" width="1.0" height="2.0" fill="#10a010" fill-opacity="0.8"/>
<rect x="361.2" y="192.1" width="1.0" height="2.0" fill="#10a010" fill-opacity="0.8"/>
<rect x="363.4" y="192.1" width="1.0" height="2.0" fill="#10a010" fill-opacity="0.8"/>
<rect x="365.6" y="192.1" width="1.0" height="2.0" fill="#10a010" fill-opacity="0.8"/>
<rect x="369.9" y="192.1" width="1.0" height="2.0" fill="#10a010" fill-opacity="0.8"/>
<rect x="370.8" y="192.1" width="1.0" height="2.0" fill="#10a010" fill-opacity="0.8"/>
<rect x="373.4" y="192.1" width="1.0" height="2.0" fill="#10a010" fill-opacity="0.8"/>
<rect x="375.1" y="192.1" width="1.0" height="2.0" fill="#10a010" fill-opacity="0.8"/>
<rect x="378.6" y="192.1" width="1.0" height="2.0" fill="#10a010" fill-opacity="0.8"/>
<rect x="380.8" y="192.1" width="1.0" height="2.0" fill="#10a010" fill-opacity="0.8"/>
<rect x="382.9" y="192.1" width="1.0" height="2.0" fill="#10a010" fill-opacity="0.8"/>
<rect x="386.0" y="192.1" width="1.0" height="2.0" fill="#10a010" fill-opacity="0.8"/>
<rect x="388.1" y="192.1" width="1.0" height="2.0" fill="#10a010" fill-opacity="0.8"/>
<rect x="391.6" y="192.1" width="1.0" height="2.0" fill="#10a010" fill-opacity="0.8"/>
<rect x="395.5" y="192.1" width="1.0" height="2.0" fill="#10a010" fill-opacity="0.8"/>
<rect x="398.1" y="192.1" width="1.0" height="2.0" fill="#10a010" fill-opacity="0.8"/>
<rect x="399.5" y="192.1" width="1.0" height="2.0" fill="#10a010" fill-opacity="0.8"/>
<rect x="400.8" y="192.1" width="1.0" height="2.0" fill="#10a010" fill-opacity="0.8"/>
<rect x="402.1" y="192.1" width="1.0" height="2.0" fill="#10a010" fill-opacity="0.8"/>
<rect x="403.4" y="192.1" width="1.0" height="2.0" fill="#10a010" fill-opacity="0.8"/>
<rect x="404.7" y="192.1" width="1.0" height="2.0" fill="#10a010" fill-opacity="0.8"/>
<rect x="408.2" y="192.1" width="1.0" height="2.0" fill="#10a010" fill-opacity="0.8"/>
<rect x="409.9" y="192.1" width="1.0" height="2.0" fill="#10a010" fill-opacity="0.8"/>
<rect x="411.7" y="192.1" width="1.0" height="2.0" fill="#10a010" fill-opacity="0.8"/>
<rect x="415.1" y="192.1" width="1.0" height="2.0" fill="#10a010" fill-opacity="0.8"/>
<rect x="416.9" y="192.1" width="1.0" height="2.0" fill="#10a010" fill-opacity="0.8"/>
<rect x="418.6" y="192.1" width="1.0" height="2.0" fill="#10a010" fill-opacity="0.8"/>
<rect x="420.3" y="192.1" width="1.0" height="2.0" fill="#10a010" fill-opacity="0.8"/>
<rect x="422.1" y="192.1" width="1.0" height="2.0" fill="#10a010" fill-opacity="0.8"/>
<rect x="423.8" y="192.1" width="1.0" height="2.0" fill="#10a010" fill-opacity="0.8"/>
<rect x="425.5" y="192.1" width="1.0" height="2.0" fill="#10a010" fill-opacity="0.8"/>
<rect x="427.3" y="192.1" width="1.0" height="2.0" fill="#10a010" fill-opacity="0.8"/>
<rect x="429.0" y="192.1" width="1.0" height="2.0" fill="#10a010" fill-opacity="0.8"/>
<rect x="430.8" y="192.1" width="1.0" height="2.0" fill="#10a010" fill-opacity="0.8"/>
<rect x="432.5" y="192.1" width="1.0" height="2.0" fill="#10a010" fill-opacity="0.8"/>
<rect x="434.2" y="192.1" width="1.0" height="2.0" fill="#10a010" fill-opacity="0.8"/>
<rect x="436.0" y="192.1" width="1.0" height="2.0" fill="#10a010" fill-opacity="0.8"/>
<rect x="437.7" y="192.1" width="1.0" height="2.0" fill="#10a010" fill-opacity="0.8"/>
<rect x="439.4" y="192.1" width="1.0" height="2.0" fill="#10a010" fill-opacity="0.8"/>
<rect x="441.2" y="192.1" width="1.0" height="2.0" fill="#10a010" fill-opacity="0.8"/>
<rect x="442.9" y="192.1" width="1.0" height="2.0" fill="#10a010" fill-opacity="0.8"/>
<rect x="444.6" y="192.1" width="1.0" height="2.0" fill="#10a010" fill-opacity="0.8"/>
<rect x="446.4" y="192.1" width="1.0" height="2.0" fill="#10a010" fill-opacity="0.8"/>
<rect x="448.1" y="192.1" width="1.0" height="2.0" fill="#10a010" fill-opacity="0.8"/>
<rect x="256.1" y="194.6" width="1.0" height="2.0" fill="#f0f000" fill-opacity="0.8"/>
<rect x="258.3" y="194.6" width="1.0" height="2.0" fill="#f0f000" fill-opacity="0.8"/>
<rect x="261.3" y="194.6" width="1.0" height="2.0" fill="#f0f000" fill-opacity="0.8"/>
<rect x="266.5" y="194.6" width="1.0" height="2.0" fill="#f0f000" fill-opacity="0.8"/>
<rect x="270.0" y="194.6" width="1.0" height="2.0" fill="#f0f000" fill-opacity="0.8"/>
<rect x="271.9" y="194.6" width="1.0" height="2.0" fill="#f0f000" fill-opacity="0.8"/>
<rect x="275.6" y="194.6" width="1.0" height="2.0" fill="#f0f000" fill-opacity="0.8"/>
<rect x="281.7" y="194.6" width="1.0" height="2.0" fill="#f0f000" fill-opacity="0.8"/>
<rect x="287.4" y="194.6" width="1.0" height="2.0" fill="#f0f000" fill-opacity="0.8"/>
<rect x="289.1" y="194.6" width="1.0" height="2.0" fill="#f0f000" fill-opacity="0.8"/>
<rect x="290.8" y="194.6" width="1.0" height="2.0" fill="#f0f000" fill-opacity="0.8"/>
<rect x="294.7" y="194.6" width="1.0" height="2.0" fill="#f0f000" fill-opacity="0.8"/>
<rect x="297.8" y="194.6" width="1.0" height="2.0" fill="#f0f000" fill-opacity="0.8"/>
<rect x="302.1" y="194.6" width="1.0" height="2.0" fill="#f0f000" fill-opacity="0.8"/>
<rect x="302.4" y="194.6" width="1.0" height="2.0" fill="#f0f000" fill-opacity="0.8"/>
<rect x="303.7" y="194.6" width="1.0" height="2.0" fill="#f0f000" fill-opacity="0.8"/>
<rect x="305.4" y="194.6" width="1.0" height="2.0" fill="#f0f000" fill-opacity="0.8"/>
<rect x="308.0" y="194.6" width="1.0" height="2.0" fill="#f0f000" fill-opacity="0.8"/>
<rect x="309.3" y="194.6" width="1.0" height="2.0" fill="#f0f000" fill-opacity="0.8"/>
<rect x="311.9" y="194.6" width="1.0" height="2.0" fill="#f0f000" fill-opacity="0.8"/>
<rect x="315.4" y="194.6" width="1.0" height="2.0" fill="#f0f000" fill-opacity="0.8"/>
<rect x="317.1" y="194.6" width="1.0" height="2.0" fill="#f0f000" fill-opacity="0.8"/>
<rect x="318.9" y="194.6" width="1.0" height="2.0" fill="#f0f000" fill-opacity="0.8"/>
<rect x="321.9" y="194.6" width="1.0" height="2.0" fill="#f0f000" fill-opacity="0.8"/>
<rect x="327.5" y="194.6" width="1.0" height="2.0" fill="#f0f000" fill-opacity="0.8"/>
<rect x="328.8" y="194.6" width="1.0" height="2.0" fill="#f0f000" fill-opacity="0.8"/>
<rect x="332.8" y="194.6" width="1.0" height="2.0" fill="#f0f000" fill-opacity="0.8"/>
<rect x="334.1" y="194.6" width="1.0" height="2.0" fill="#f0f000" fill-opacity="0.8"/>
<rect x="337.1" y="194.6" width="1.0" height="2.0" fill="#f0f000" fill-opacity="0.8"/>
<rect x="341.0" y="194.6" width="1.0" height="2.0" fill="#f0f000" fill-opacity="0.8"/>
<rect x="342.3" y="194.6" width="1.0" height="2.0" fill="#f0f000" fill-opacity="0.8"/>
<rect x="344.9" y="194.6" width="1.0" height="2.0" fill="#f0f000" fill-opacity="0.8"/>
<rect x="346.6" y="194.6" width="1.0" height="2.0" fill="#f0f000" fill-opacity="0.8"/>
<rect x="350.1" y="194.6" width="1.0" height="2.0" fill="#f0f000" fill-opacity="0.8"/>
<rect x="349.9" y="194.6" width="1.0" height="2.0" fill="#f0f000" fill-opacity="0.8"/>
<rect x="353.4" y="194.6" width="1.0" height="2.0" fill="#f0f000" fill-opacity="0.8"/>
<rect x="355.6" y="194.6" width="1.0" height="2.0" fill="#f0f000" fill-opacity="0.8"/>
<rect x="358.6" y="194.6" width="1.0" height="2.0" fill="#f0f000" fill-opacity="0.8"/>
<rect x="361.2" y="194.6" width="1.0" height="2.0" fill="#f0f000" fill-opacity="0.8"/>
<rect x="363.4" y="194.6" width="1.0" height="2.0" fill="#f0f000" fill-opacity="0.8"/>
<rect x="365.6" y="194.6" width="1.0" height="2.0" fill="#f0f000" fill-opacity="0.8"/>
<rect x="369.9" y="194.6" width="1.0" height="2.0" fill="#f0f000" fill-opacity="0.8"/>
<rect x="370.8" y="194.6" width="1.0" height="2.0" fill="#f0f000" fill-opacity="0.8"/>
<rect x="373.4" y="194.6" width="1.0" height="2.0" fill="#f0f000" fill-opacity="0.8"/>
<rect x="375.1" y="194.6" width="1.0" height="2.0" fill="#f0f000" fill-opacity="0.8"/>
<rect x="378.6" y="194.6" width="1.0" height="2.0" fill="#f0f000" fill-opacity="0.8"/>
<rect x="380.8" y="194.6" width="1.0" height="2.0" fill="#f0f000" fill-opacity="0.8"/>
<rect x="382.9" y="194.6" width="1.0" height="2.0" fill="#f0f000" fill-opacity="0.8"/>
<rect x="386.0" y="194.6" width="1.0" height="2.0" fill="#f0f000" fill-opacity="0.8"/>
<rect x="388.1" y="194.6" width="1.0" height="2.0" fill="#f0f000" fill-opacity="0.8"/>
<rect x="391.6" y="194.6" width="1.0" height="2.0" fill="#f0f000" fill-opacity="0.8"/>
<rect x="395.5" y="194.6" width="1.0" height="2.0" fill="#f0f000" fill-opacity="0.8"/>
<rect x="398.1" y="194.6" width="1.0" height="2.0" fill="#f0f000" fill-opacity="0.8"/>
<rect x="399.5" y="194.6" width="1.0" height="2.0" fill="#f0f000" fill-opacity="0.8"/>
<rect x="400.8" y="194.6" width="1.0" height="2.0" fill="#f0f000" fill-opacity="0.8"/>
<rect x="402.1" y="194.6" width="1.0" height="2.0" fill="#f0f000" fill-opacity="0.8"/>
<rect x="403.4" y="194.6" width="1.0" height="2.0" fill="#f0f000" fill-opacity="0.8"/>
<rect x="404.7" y="194.6" width="1.0" height="2.0" fill="#f0f000" fill-opacity="0.8"/>
<rect x="408.2" y="194.6" width="1.0" height="2.0" fill="#f0f000" fill-opacity="0.8"/>
<rect x="409.9" y="194.6" width="1.0" height="2.0" fill="#f0f000" fill-opacity="0.8"/>
<rect x="411.7" y="194.6" width="1.0" height="2.0" fill="#f0f000" fill-opacity="0.8"/>
<rect x="415.1" y="194.6" width="1.0" height="2.0" fill="#f0f000" fill-opacity="0.8"/>
<rect x="416.9" y="194.6" width="1.0" height="2.0" fill="#f0f000" fill-opacity="0.8"/>
<rect x="418.6" y="194.6" width="1.0" height="2.0" fill="#f0f000" fill-opacity="0.8"/>
<rect x="420.3" y="194.6" width="1.0" height="2.0" fill="#f0f000" fill-opacity="0.8"/>
<rect x="422.1" y="194.6" width="1.0" height="2.0" fill="#f0f000" fill-opacity="0.8"/>
<rect x="423.8" y="194.6" width="1.0" height="2.0" fill="#f0f000" fill-opacity="0.8"/>
<rect x="425.5" y="194.6" width="1.0" height="2.0" fill="#f0f000" fill-opacity="0.8"/>
<rect x="427.3" y="194.6" width="1.0" height="2.0" fill="#f0f000" fill-opacity="0.8"/>
<rect x="429.0" y="194.6" width="1.0" height="2.0" fill="#f0f000" fill-opacity="0.8"/>
<rect x="430.8" y="194.6" width="1.0" height="2.0" fill="#f0f000" fill-opacity="0.8"/>
<rect x="432.5" y="194.6" width="1.0" height="2.0" fill="#f0f000" fill-opacity="0.8"/>
<rect x="434.2" y="194.6" width="1.0" height="2.0" fill="#f0f000" fill-opacity="0.8"/>
<rect x="436.0" y="194.6" width="1.0" height="2.0" fill="#f0f000" fill-opacity="0.8"/>
<rect x="437.7" y="194.6" width="1.0" height="2.0" fill="#f0f000" fill-opacity="0.8"/>
<rect x="439.4" y="194.6" width="1.0" height="2.0" fill="#f0f000" fill-opacity="0.8"/>
<rect x="441.2" y="194.6" width="1.0" height="2.0" fill="#f0f000" fill-opacity="0.8"/>
<rect x="442.9" y="194.6" width="1.0" height="2.0" fill="#f0f000" fill-opacity="0.8"/>
<rect x="444.6" y="194.6" width="1.0" height="2.0" fill="#f0f000" fill-opacity="0.8"/>
<rect x="446.4" y="194.6" width="1.0" height="2.0" fill="#f0f000" fill-opacity="0.8"/>
<rect x="448.1" y="194.6" width="1.0" height="2.0" fill="#f0f000" fill-opacity="0.8"/>
<rect x="260.9" y="197.2" width="1.0" height="2.0" fill="#602040" fill-opacity="0.8"/>
<rect x="264.6" y="197.2" width="1.0" height="2.0" fill="#602040" fill-opacity="0.8"/>
<rect x="286.9" y="197.2" width="1.0" height="2.0" fill="#602040" fill-opacity="0.8"/>
<rect x="296.9" y="197.2" width="1.0" height="2.0" fill="#602040" fill-opacity="0.8"/>
<rect x="316.1" y="197.2" width="1.0" height="2.0" fill="#602040" fill-opacity="0.8"/>
<rect x="328.4" y="197.2" width="1.0" height="2.0" fill="#602040" fill-opacity="0.8"/>
<rect x="337.1" y="197.2" width="1.0" height="2.0" fill="#602040" fill-opacity="0.8"/>
<rect x="340.6" y="197.2" width="1.0" height="2.0" fill="#602040" fill-opacity="0.8"/>
<rect x="343.6" y="197.2" width="1.0" height="2.0" fill="#602040" fill-opacity="0.8"/>
<rect x="355.1" y="197.2" width="1.0" height="2.0" fill="#602040" fill-opacity="0.8"/>
<rect x="357.7" y="197.2" width="1.0" height="2.0" fill="#602040" fill-opacity="0.8"/>
<rect x="370.2" y="197.2" width="1.0" height="2.0" fill="#602040" fill-opacity="0.8"/>
<rect x="379.0" y="197.2" width="1.0" height="2.0" fill="#602040" fill-opacity="0.8"/>
<rect x="386.4" y="197.2" width="1.0" height="2.0" fill="#602040" fill-opacity="0.8"/>
<rect x="389.4" y="197.2" width="1.0" height="2.0" fill="#602040" fill-opacity="0.8"/>
<rect x="397.7" y="197.2" width="1.0" height="2.0" fill="#602040" fill-opacity="0.8"/>
<rect x="399.9" y="197.2" width="1.0" height="2.0" fill="#602040" fill-opacity="0.8"/>
<rect x="402.5" y="197.2" width="1.0" height="2.0" fill="#602040" fill-opacity="0.8"/>
<rect x="406.0" y="197.2" width="1.0" height="2.0" fill="#602040" fill-opacity="0.8"/>
<rect x="407.7" y="197.2" width="1.0" height="2.0" fill="#602040" fill-opacity="0.8"/>
<rect x="409.9" y="197.2" width="1.0" height="2.0" fill="#602040" fill-opacity="0.8"/>
<rect x="413.0" y="197.2" width="1.0" height="2.0" fill="#602040" fill-opacity="0.8"/>
<rect x="423.4" y="197.2" width="1.0" height="2.0" fill="#602040" fill-opacity="0.8"/>
<rect x="426.0" y="197.2" width="1.0" height="2.0" fill="#602040" fill-opacity="0.8"/>
<rect x="429.0" y="197.2" width="1.0" height="2.0" fill="#602040" fill-opacity="0.8"/>
<rect x="431.2" y="197.2" width="1.0" height="2.0" fill="#602040" fill-opacity="0.8"/>
<rect x="434.7" y="197.2" width="1.0" height="2.0" fill="#602040" fill-opacity="0.8"/>
<rect x="440.3" y="197.2" width="1.0" height="2.0" fill="#602040" fill-opacity="0.8"/>
<rect x="443.8" y="197.2" width="1.0" height="2.0" fill="#602040" fill-opacity="0.8"/>
<rect x="295.6" y="199.8" width="1.0" height="2.0" fill="#40e0b0" fill-opacity="0.8"/>
<rect x="309.1" y="199.8" width="1.0" height="2.0" fill="#40e0b0" fill-opacity="0.8"/>
<rect x="329.3" y="199.8" width="1.0" height="2.0" fill="#40e0b0" fill-opacity="0.8"/>
<rect x="334.9" y="199.8" width="1.0" height="2.0" fill="#40e0b0" fill-opacity="0.8"/>
<rect x="372.5" y="199.8" width="1.0" height="2.0" fill="#40e0b0" fill-opacity="0.8"/>
<rect x="377.1" y="199.8" width="1.0" height="2.0" fill="#40e0b0" fill-opacity="0.8"/>
<rect x="392.9" y="199.8" width="1.0" height="2.0" fill="#40e0b0" fill-opacity="0.8"/>
<rect x="403.0" y="199.8" width="1.0" height="2.0" fill="#40e0b0" fill-opacity="0.8"/>
<rect x="406.0" y="199.8" width="1.0" height="2.0" fill="#40e0b0" fill-opacity="0.8"/>
<rect x="411.2" y="199.8" width="1.0" height="2.0" fill="#40e0b0" fill-opacity="0.8"/>
<rect x="431.6" y="199.8" width="1.0" height="2.0" fill="#40e0b0" fill-opacity="0.8"/>
<rect x="436.8" y="199.8" width="1.0" height="2.0" fill="#40e0b0" fill-opacity="0.8"/>
<rect x="442.0" y="199.8" width="1.0" height="2.0" fill="#40e0b0" fill-opacity="0.8"/>
<rect x="444.6" y="199.8" width="1.0" height="2.0" fill="#40e0b0" fill-opacity="0.8"/>
<rect x="295.6" y="202.3" width="1.0" height="2.0" fill="#f05050" fill-opacity="0.8"/>
<rect x="309.1" y="202.3" width="1.0" height="2.0" fill="#f05050" fill-opacity="0.8"/>
<rect x="329.3" y="202.3" width="1.0" height="2.0" fill="#f05050" fill-opacity="0.8"/>
<rect x="372.5" y="202.3" width="1.0" height="2.0" fill="#f05050" fill-opacity="0.8"/>
<rect x="377.1" y="202.3" width="1.0" height="2.0" fill="#f05050" fill-opacity="0.8"/>
<rect x="392.9" y="202.3" width="1.0" height="2.0" fill="#f05050" fill-opacity="0.8"/>
<rect x="403.0" y="202.3" width="1.0" height="2.0" fill="#f05050" fill-opacity="0.8"/>
<rect x="406.0" y="202.3" width="1.0" height="2.0" fill="#f05050" fill-opacity="0.8"/>
<rect x="411.2" y="202.3" width="1.0" height="2.0" fill="#f05050" fill-opacity="0.8"/>
<rect x="431.6" y="202.3" width="1.0" height="2.0" fill="#f05050" fill-opacity="0.8"/>
<rect x="436.8" y="202.3" width="1.0" height="2.0" fill="#f05050" fill-opacity="0.8"/>
<rect x="442.0" y="202.3" width="1.0" height="2.0" fill="#f05050" fill-opacity="0.8"/>
<rect x="444.6" y="202.3" width="1.0" height="2.0" fill="#f05050" fill-opacity="0.8"/>
<rect x="273.3" y="204.8" width="1.0" height="2.0" fill="#3030d0" fill-opacity="0.8"/>
<rect x="287.8" y="204.8" width="1.0" height="2.0" fill="#3030d0" fill-opacity="0.8"/>
<rect x="301.2" y="204.8" width="1.0" height="2.0" fill="#3030d0" fill-opacity="0.8"/>
<rect x="302.4" y="204.8" width="1.0" height="2.0" fill="#3030d0" fill-opacity="0.8"/>
<rect x="304.1" y="204.8" width="1.0" height="2.0" fill="#3030d0" fill-opacity="0.8"/>
<rect x="314.1" y="204.8" width="1.0" height="2.0" fill="#3030d0" fill-opacity="0.8"/>
<rect x="326.2" y="204.8" width="1.0" height="2.0" fill="#3030d0" fill-opacity="0.8"/>
<rect x="331.0" y="204.8" width="1.0" height="2.0" fill="#3030d0" fill-opacity="0.8"/>
<rect x="339.7" y="204.8" width="1.0" height="2.0" fill="#3030d0" fill-opacity="0.8"/>
<rect x="345.8" y="204.8" width="1.0" height="2.0" fill="#3030d0" fill-opacity="0.8"/>
<rect x="352.5" y="204.8" width="1.0" height="2.0" fill="#3030d0" fill-opacity="0.8"/>
<rect x="355.1" y="204.8" width="1.0" height="2.0" fill="#3030d0" fill-opacity="0.8"/>
<rect x="366.9" y="204.8" width="1.0" height="2.0" fill="#3030d0" fill-opacity="0.8"/>
<rect x="373.8" y="204.8" width="1.0" height="2.0" fill="#3030d0" fill-opacity="0.8"/>
<rect x="376.0" y="204.8" width="1.0" height="2.0" fill="#3030d0" fill-opacity="0.8"/>
<rect x="390.3" y="204.8" width="1.0" height="2.0" fill="#3030d0" fill-opacity="0.8"/>
<rect x="398.1" y="204.8" width="1.0" height="2.0" fill="#3030d0" fill-opacity="0.8"/>
<rect x="402.1" y="204.8" width="1.0" height="2.0" fill="#3030d0" fill-opacity="0.8"/>
<rect x="406.9" y="204.8" width="1.0" height="2.0" fill="#3030d0" fill-opacity="0.8"/>
<rect x="413.4" y="204.8" width="1.0" height="2.0" fill="#3030d0" fill-opacity="0.8"/>
<rect x="428.1" y="204.8" width="1.0" height="2.0" fill="#3030d0" fill-opacity="0.8"/>
<rect x="434.7" y="204.8" width="1.0" height="2.0" fill="#3030d0" fill-opacity="0.8"/>
<rect x="436.8" y="204.8" width="1.0" height="2.0" fill="#3030d0" fill-opacity="0.8"/>
<rect x="439.0" y="204.8" width="1.0" height="2.0" fill="#3030d0" fill-opacity="0.8"/>
<rect x="443.8" y="204.8" width="1.0" height="2.0" fill="#3030d0" fill-opacity="0.8"/>
<rect x="447.2" y="204.8" width="1.0" height="2.0" fill="#3030d0" fill-opacity="0.8"/>
<rect x="272.8" y="207.3" width="1.0" height="2.0" fill="#b0b0e0" fill-opacity="0.8"/>
<rect x="296.9" y="207.3" width="1.0" height="2.0" fill="#b0b0e0" fill-opacity="0.8"/>
<rect x="301.1" y="207.3" width="1.0" height="2.0" fill="#b0b0e0" fill-opacity="0.8"/>
<rect x="312.8" y="207.3" width="1.0" height="2.0" fill="#b0b0e0" fill-opacity="0.8"/>
<rect x="321.0" y="207.3" width="1.0" height="2.0" fill="#b0b0e0" fill-opacity="0.8"/>
<rect x="328.0" y="207.3" width="1.0" height="2.0" fill="#b0b0e0" fill-opacity="0.8"/>
<rect x="329.7" y="207.3" width="1.0" height="2.0" fill="#b0b0e0" fill-opacity="0.8"/>
<rect x="334.5" y="207.3" width="1.0" height="2.0" fill="#b0b0e0" fill-opacity="0.8"/>
<rect x="338.8" y="207.3" width="1.0" height="2.0" fill="#b0b0e0" fill-opacity="0.8"/>
<rect x="343.2" y="207.3" width="1.0" height="2.0" fill="#b0b0e0" fill-opacity="0.8"/>
<rect x="350.1" y="207.3" width="1.0" height="2.0" fill="#b0b0e0" fill-opacity="0.8"/>
<rect x="350.4" y="207.3" width="1.0" height="2.0" fill="#b0b0e0" fill-opacity="0.8"/>
<rect x="353.0" y="207.3" width="1.0" height="2.0" fill="#b0b0e0" fill-opacity="0.8"/>
<rect x="359.5" y="207.3" width="1.0" height="2.0" fill="#b0b0e0" fill-opacity="0.8"/>
<rect x="365.6" y="207.3" width="1.0" height="2.0" fill="#b0b0e0" fill-opacity="0.8"/>
<rect x="373.4" y="207.3" width="1.0" height="2.0" fill="#b0b0e0" fill-opacity="0.8"/>
<rect x="381.6" y="207.3" width="1.0" height="2.0" fill="#b0b0e0" fill-opacity="0.8"/>
<rect x="386.8" y="207.3" width="1.0" height="2.0" fill="#b0b0e0" fill-opacity="0.8"/>
<rect x="396.4" y="207.3" width="1.0" height="2.0" fill="#b0b0e0" fill-opacity="0.8"/>
<rect x="402.1" y="207.3" width="1.0" height="2.0" fill="#b0b0e0" fill-opacity="0.8"/>
<rect x="408.2" y="207.3" width="1.0" height="2.0" fill="#b0b0e0" fill-opacity="0.8"/>
<rect x="410.8" y="207.3" width="1.0" height="2.0" fill="#b0b0e0" fill-opacity="0.8"/>
<rect x="420.3" y="207.3" width="1.0" height="2.0" fill="#b0b0e0" fill-opacity="0.8"/>
<rect x="429.4" y="207.3" width="1.0" height="2.0" fill="#b0b0e0" fill-opacity="0.8"/>
<rect x="432.9" y="207.3" width="1.0" height="2.0" fill="#b0b0e0" fill-opacity="0.8"/>
<rect x="439.4" y="207.3" width="1.0" height="2.0" fill="#b0b0e0" fill-opacity="0.8"/>
<rect x="444.6" y="207.3" width="1.0" height="2.0" fill="#b0b0e0" fill-opacity="0.8"/>
<rect x="269.1" y="209.8" width="1.0" height="2.0" fill="#c040f0" fill-opacity="0.8"/>
<rect x="288.9" y="209.8" width="1.0" height="2.0" fill="#c040f0" fill-opacity="0.8"/>
<rect x="294.3" y="209.8" width="1.0" height="2.0" fill="#c040f0" fill-opacity="0.8"/>
<rect x="352.1" y="209.8" width="1.0" height="2.0" fill="#c040f0" fill-opacity="0.8"/>
<rect x="360.8" y="209.8" width="1.0" height="2.0" fill="#c040f0" fill-opacity="0.8"/>
<rect x="363.8" y="209.8" width="1.0" height="2.0" fill="#c040f0" fill-opacity="0.8"/>
<rect x="379.9" y="209.8" width="1.0" height="2.0" fill="#c040f0" fill-opacity="0.8"/>
<rect x="386.0" y="209.8" width="1.0" height="2.0" fill="#c040f0" fill-opacity="0.8"/>
<rect x="399.9" y="209.8" width="1.0" height="2.0" fill="#c040f0" fill-opacity="0.8"/>
<rect x="401.7" y="209.8" width="1.0" height="2.0" fill="#c040f0" fill-opacity="0.8"/>
<rect x="405.1" y="209.8" width="1.0" height="2.0" fill="#c040f0" fill-opacity="0.8"/>
<rect x="409.0" y="209.8" width="1.0" height="2.0" fill="#c040f0" fill-opacity="0.8"/>
<rect x="410.4" y="209.8" width="1.0" height="2.0" fill="#c040f0" fill-opacity="0.8"/>
<rect x="416.9" y="209.8" width="1.0" height="2.0" fill="#c040f0" fill-opacity="0.8"/>
<rect x="424.7" y="209.8" width="1.0" height="2.0" fill="#c040f0" fill-opacity="0.8"/>
<rect x="432.1" y="209.8" width="1.0" height="2.0" fill="#c040f0" fill-opacity="0.8"/>
<rect x="436.8" y="209.8" width="1.0" height="2.0" fill="#c040f0" fill-opacity="0.8"/>
<rect x="439.9" y="209.8" width="1.0" height="2.0" fill="#c040f0" fill-opacity="0.8"/>
<rect x="444.6" y="209.8" width="1.0" height="2.0" fill="#c040f0" fill-opacity="0.8"/>
<rect x="260.4" y="212.4" width="1.0" height="2.0" fill="#f4b0b0" fill-opacity="0.8"/>
<rect x="264.4" y="212.4" width="1.0" height="2.0" fill="#f4b0b0" fill-opacity="0.8"/>
<rect x="273.9" y="212.4" width="1.0" height="2.0" fill="#f4b0b0" fill-opacity="0.8"/>
<rect x="276.8" y="212.4" width="1.0" height="2.0" fill="#f4b0b0" fill-opacity="0.8"/>
<rect x="286.9" y="212.4" width="1.0" height="2.0" fill="#f4b0b0" fill-opacity="0.8"/>
<rect x="299.9" y="212.4" width="1.0" height="2.0" fill="#f4b0b0" fill-opacity="0.8"/>
<rect x="321.0" y="212.4" width="1.0" height="2.0" fill="#f4b0b0" fill-opacity="0.8"/>
<rect x="323.9" y="212.4" width="1.0" height="2.0" fill="#f4b0b0" fill-opacity="0.8"/>
<rect x="334.9" y="212.4" width="1.0" height="2.0" fill="#f4b0b0" fill-opacity="0.8"/>
<rect x="340.6" y="212.4" width="1.0" height="2.0" fill="#f4b0b0" fill-opacity="0.8"/>
<rect x="349.2" y="212.4" width="1.0" height="2.0" fill="#f4b0b0" fill-opacity="0.8"/>
<rect x="351.0" y="212.4" width="1.0" height="2.0" fill="#f4b0b0" fill-opacity="0.8"/>
<rect x="349.9" y="212.4" width="1.0" height="2.0" fill="#f4b0b0" fill-opacity="0.8"/>
<rect x="360.8" y="212.4" width="1.0" height="2.0" fill="#f4b0b0" fill-opacity="0.8"/>
<rect x="363.8" y="212.4" width="1.0" height="2.0" fill="#f4b0b0" fill-opacity="0.8"/>
<rect x="372.1" y="212.4" width="1.0" height="2.0" fill="#f4b0b0" fill-opacity="0.8"/>
<rect x="377.7" y="212.4" width="1.0" height="2.0" fill="#f4b0b0" fill-opacity="0.8"/>
<rect x="379.9" y="212.4" width="1.0" height="2.0" fill="#f4b0b0" fill-opacity="0.8"/>
<rect x="388.1" y="212.4" width="1.0" height="2.0" fill="#f4b0b0" fill-opacity="0.8"/>
<rect x="392.9" y="212.4" width="1.0" height="2.0" fill="#f4b0b0" fill-opacity="0.8"/>
<rect x="398.1" y="212.4" width="1.0" height="2.0" fill="#f4b0b0" fill-opacity="0.8"/>
<rect x="399.9" y="212.4" width="1.0" height="2.0" fill="#f4b0b0" fill-opacity="0.8"/>
<rect x="405.1" y="212.4" width="1.0" height="2.0" fill="#f4b0b0" fill-opacity="0.8"/>
<rect x="409.0" y="212.4" width="1.0" height="2.0" fill="#f4b0b0" fill-opacity="0.8"/>
<rect x="411.7" y="212.4" width="1.0" height="2.0" fill="#f4b0b0" fill-opacity="0.8"/>
<rect x="420.8" y="212.4" width="1.0" height="2.0" fill="#f4b0b0" fill-opacity="0.8"/>
<rect x="426.8" y="212.4" width="1.0" height="2.0" fill="#f4b0b0" fill-opacity="0.8"/>
<rect x="430.3" y="212.4" width="1.0" height="2.0" fill="#f4b0b0" fill-opacity="0.8"/>
<rect x="436.0" y="212.4" width="1.0" height="2.0" fill="#f4b0b0" fill-opacity="0.8"/>
<rect x="442.9" y="212.4" width="1.0" height="2.0" fill="#f4b0b0" fill-opacity="0.8"/>
<rect x="445.5" y="212.4" width="1.0" height="2.0" fill="#f4b0b0" fill-opacity="0.8"/>
<rect x="272.8" y="214.9" width="1.0" height="2.0" fill="#d8a860" fill-opacity="0.8"/>
<rect x="290.8" y="214.9" width="1.0" height="2.0" fill="#d8a860" fill-opacity="0.8"/>
<rect x="296.9" y="214.9" width="1.0" height="2.0" fill="#d8a860" fill-opacity="0.8"/>
<rect x="300.8" y="214.9" width="1.0" height="2.0" fill="#d8a860" fill-opacity="0.8"/>
<rect x="303.7" y="214.9" width="1.0" height="2.0" fill="#d8a860" fill-opacity="0.8"/>
<rect x="312.8" y="214.9" width="1.0" height="2.0" fill="#d8a860" fill-opacity="0.8"/>
<rect x="321.0" y="214.9" width="1.0" height="2.0" fill="#d8a860" fill-opacity="0.8"/>
<rect x="328.0" y="214.9" width="1.0" height="2.0" fill="#d8a860" fill-opacity="0.8"/>
<rect x="329.7" y="214.9" width="1.0" height="2.0" fill="#d8a860" fill-opacity="0.8"/>
<rect x="334.9" y="214.9" width="1.0" height="2.0" fill="#d8a860" fill-opacity="0.8"/>
<rect x="338.8" y="214.9" width="1.0" height="2.0" fill="#d8a860" fill-opacity="0.8"/>
<rect x="342.7" y="214.9" width="1.0" height="2.0" fill="#d8a860" fill-opacity="0.8"/>
<rect x="350.1" y="214.9" width="1.0" height="2.0" fill="#d8a860" fill-opacity="0.8"/>
<rect x="349.9" y="214.9" width="1.0" height="2.0" fill="#d8a860" fill-opacity="0.8"/>
<rect x="353.0" y="214.9" width="1.0" height="2.0" fill="#d8a860" fill-opacity="0.8"/>
<rect x="359.5" y="214.9" width="1.0" height="2.0" fill="#d8a860" fill-opacity="0.8"/>
<rect x="365.6" y="214.9" width="1.0" height="2.0" fill="#d8a860" fill-opacity="0.8"/>
<rect x="372.5" y="214.9" width="1.0" height="2.0" fill="#d8a860" fill-opacity="0.8"/>
<rect x="373.4" y="214.9" width="1.0" height="2.0" fill="#d8a860" fill-opacity="0.8"/>
<rect x="381.2" y="214.9" width="1.0" height="2.0" fill="#d8a860" fill-opacity="0.8"/>
<rect x="382.9" y="214.9" width="1.0" height="2.0" fill="#d8a860" fill-opacity="0.8"/>
<rect x="386.8" y="214.9" width="1.0" height="2.0" fill="#d8a860" fill-opacity="0.8"/>
<rect x="392.0" y="214.9" width="1.0" height="2.0" fill="#d8a860" fill-opacity="0.8"/>
<rect x="402.5" y="214.9" width="1.0" height="2.0" fill="#d8a860" fill-opacity="0.8"/>
<rect x="408.6" y="214.9" width="1.0" height="2.0" fill="#d8a860" fill-opacity="0.8"/>
<rect x="410.4" y="214.9" width="1.0" height="2.0" fill="#d8a860" fill-opacity="0.8"/>
<rect x="411.7" y="214.9" width="1.0" height="2.0" fill="#d8a860" fill-opacity="0.8"/>
<rect x="420.3" y="214.9" width="1.0" height="2.0" fill="#d8a860" fill-opacity="0.8"/>
<rect x="429.4" y="214.9" width="1.0" height="2.0" fill="#d8a860" fill-opacity="0.8"/>
<rect x="433.4" y="214.9" width="1.0" height="2.0" fill="#d8a860" fill-opacity="0.8"/>
<rect x="439.4" y="214.9" width="1.0" height="2.0" fill="#d8a860" fill-opacity="0.8"/>
<rect x="446.8" y="214.9" width="1.0" height="2.0" fill="#d8a860" fill-opacity="0.8"/>
<rect x="257.4" y="217.2" width="1.0" height="2.0" fill="#202030" fill-opacity="0.8"/>
<rect x="263.5" y="217.2" width="1.0" height="2.0" fill="#202030" fill-opacity="0.8"/>
<rect x="264.8" y="217.2" width="1.0" height="2.0" fill="#202030" fill-opacity="0.8"/>
<rect x="282.6" y="217.2" width="1.0" height="2.0" fill="#202030" fill-opacity="0.8"/>
<rect x="288.2" y="217.2" width="1.0" height="2.0" fill="#202030" fill-opacity="0.8"/>
<rect x="289.1" y="217.2" width="1.0" height="2.0" fill="#202030" fill-opacity="0.8"/>
<rect x="295.2" y="217.2" width="1.0" height="2.0" fill="#202030" fill-opacity="0.8"/>
<rect x="298.2" y="217.2" width="1.0" height="2.0" fill="#202030" fill-opacity="0.8"/>
<rect x="300.8" y="217.2" width="1.0" height="2.0" fill="#202030" fill-opacity="0.8"/>
<rect x="301.7" y="217.2" width="1.0" height="2.0" fill="#202030" fill-opacity="0.8"/>
<rect x="302.4" y="217.2" width="1.0" height="2.0" fill="#202030" fill-opacity="0.8"/>
<rect x="304.1" y="217.2" width="1.0" height="2.0" fill="#202030" fill-opacity="0.8"/>
<rect x="308.0" y="217.2" width="1.0" height="2.0" fill="#202030" fill-opacity="0.8"/>
<rect x="309.3" y="217.2" width="1.0" height="2.0" fill="#202030" fill-opacity="0.8"/>
<rect x="313.7" y="217.2" width="1.0" height="2.0" fill="#202030" fill-opacity="0.8"/>
<rect x="315.8" y="217.2" width="1.0" height="2.0" fill="#202030" fill-opacity="0.8"/>
<rect x="321.0" y="217.2" width="1.0" height="2.0" fill="#202030" fill-opacity="0.8"/>
<rect x="328.0" y="217.2" width="1.0" height="2.0" fill="#202030" fill-opacity="0.8"/>
<rect x="328.8" y="217.2" width="1.0" height="2.0" fill="#202030" fill-opacity="0.8"/>
<rect x="331.9" y="217.2" width="1.0" height="2.0" fill="#202030" fill-opacity="0.8"/>
<rect x="332.8" y="217.2" width="1.0" height="2.0" fill="#202030" fill-opacity="0.8"/>
<rect x="334.1" y="217.2" width="1.0" height="2.0" fill="#202030" fill-opacity="0.8"/>
<rect x="335.8" y="217.2" width="1.0" height="2.0" fill="#202030" fill-opacity="0.8"/>
<rect x="338.0" y="217.2" width="1.0" height="2.0" fill="#202030" fill-opacity="0.8"/>
<rect x="339.7" y="217.2" width="1.0" height="2.0" fill="#202030" fill-opacity="0.8"/>
<rect x="341.0" y="217.2" width="1.0" height="2.0" fill="#202030" fill-opacity="0.8"/>
<rect x="341.9" y="217.2" width="1.0" height="2.0" fill="#202030" fill-opacity="0.8"/>
<rect x="353.0" y="217.2" width="1.0" height="2.0" fill="#202030" fill-opacity="0.8"/>
<rect x="358.2" y="217.2" width="1.0" height="2.0" fill="#202030" fill-opacity="0.8"/>
<rect x="361.2" y="217.2" width="1.0" height="2.0" fill="#202030" fill-opacity="0.8"/>
<rect x="363.8" y="217.2" width="1.0" height="2.0" fill="#202030" fill-opacity="0.8"/>
<rect x="367.3" y="217.2" width="1.0" height="2.0" fill="#202030" fill-opacity="0.8"/>
<rect x="370.8" y="217.2" width="1.0" height="2.0" fill="#202030" fill-opacity="0.8"/>
<rect x="374.2" y="217.2" width="1.0" height="2.0" fill="#202030" fill-opacity="0.8"/>
<rect x="376.8" y="217.2" width="1.0" height="2.0" fill="#202030" fill-opacity="0.8"/>
<rect x="379.4" y="217.2" width="1.0" height="2.0" fill="#202030" fill-opacity="0.8"/>
<rect x="382.5" y="217.2" width="1.0" height="2.0" fill="#202030" fill-opacity="0.8"/>
<rect x="383.8" y="217.2" width="1.0" height="2.0" fill="#202030" fill-opacity="0.8"/>
<rect x="385.1" y="217.2" width="1.0" height="2.0" fill="#202030" fill-opacity="0.8"/>
<rect x="388.6" y="217.2" width="1.0" height="2.0" fill="#202030" fill-opacity="0.8"/>
<rect x="392.0" y="217.2" width="1.0" height="2.0" fill="#202030" fill-opacity="0.8"/>
<rect x="394.6" y="217.2" width="1.0" height="2.0" fill="#202030" fill-opacity="0.8"/>
<rect x="396.8" y="217.2" width="1.0" height="2.0" fill="#202030" fill-opacity="0.8"/>
<rect x="399.9" y="217.2" width="1.0" height="2.0" fill="#202030" fill-opacity="0.8"/>
<rect x="404.7" y="217.2" width="1.0" height="2.0" fill="#202030" fill-opacity="0.8"/>
<rect x="406.4" y="217.2" width="1.0" height="2.0" fill="#202030" fill-opacity="0.8"/>
<rect x="416.9" y="217.2" width="1.0" height="2.0" fill="#202030" fill-opacity="0.8"/>
<rect x="422.5" y="217.2" width="1.0" height="2.0" fill="#202030" fill-opacity="0.8"/>
<rect x="426.4" y="217.2" width="1.0" height="2.0" fill="#202030" fill-opacity="0.8"/>
<rect x="429.0" y="217.2" width="1.0" height="2.0" fill="#202030" fill-opacity="0.8"/>
<rect x="431.6" y="217.2" width="1.0" height="2.0" fill="#202030" fill-opacity="0.8"/>
<rect x="435.1" y="217.2" width="1.0" height="2.0" fill="#202030" fill-opacity="0.8"/>
<rect x="438.6" y="217.2" width="1.0" height="2.0" fill="#202030" fill-opacity="0.8"/>
<rect x="442.0" y="217.2" width="1.0" height="2.0" fill="#202030" fill-opacity="0.8"/>
<rect x="443.8" y="217.2" width="1.0" height="2.0" fill="#202030" fill-opacity="0.8"/>
<rect x="119.0" y="431.1" width="1.0" height="2.4" fill="#f0a050" fill-opacity="0.75"/>
<rect x="125.7" y="431.1" width="1.0" height="2.4" fill="#f0a050" fill-opacity="0.75"/>
<rect x="131.8" y="431.1" width="1.0" height="2.4" fill="#f0a050" fill-opacity="0.75"/>
<rect x="151.1" y="431.1" width="1.0" height="2.4" fill="#f0a050" fill-opacity="0.75"/>
<rect x="166.0" y="431.1" width="1.0" height="2.4" fill="#f0a050" fill-opacity="0.75"/>
<rect x="166.6" y="431.1" width="1.0" height="2.4" fill="#f0a050" fill-opacity="0.75"/>
<rect x="199.2" y="431.1" width="1.0" height="2.4" fill="#f0a050" fill-opacity="0.75"/>
<rect x="202.5" y="431.1" width="1.0" height="2.4" fill="#f0a050" fill-opacity="0.75"/>
<rect x="215.2" y="431.1" width="1.0" height="2.4" fill="#f0a050" fill-opacity="0.75"/>
<rect x="215.9" y="431.1" width="1.0" height="2.4" fill="#f0a050" fill-opacity="0.75"/>
<rect x="231.8" y="431.1" width="1.0" height="2.4" fill="#f0a050" fill-opacity="0.75"/>
<rect x="234.9" y="431.1" width="1.0" height="2.4" fill="#f0a050" fill-opacity="0.75"/>
<rect x="237.8" y="431.1" width="1.0" height="2.4" fill="#f0a050" fill-opacity="0.75"/>
<rect x="243.1" y="431.1" width="1.0" height="2.4" fill="#f0a050" fill-opacity="0.75"/>
<rect x="244.5" y="431.1" width="1.0" height="2.4" fill="#f0a050" fill-opacity="0.75"/>
<rect x="246.0" y="431.1" width="1.0" height="2.4" fill="#f0a050" fill-opacity="0.75"/>
<rect x="247.1" y="431.1" width="1.0" height="2.4" fill="#f0a050" fill-opacity="0.75"/>
<rect x="261.6" y="431.1" width="1.0" height="2.4" fill="#f0a050" fill-opacity="0.75"/>
<rect x="120.3" y="434.0" width="1.0" height="2.4" fill="#30d0f0" fill-opacity="0.75"/>
<rect x="168.0" y="434.0" width="1.0" height="2.4" fill="#30d0f0" fill-opacity="0.75"/>
<rect x="178.0" y="434.0" width="1.0" height="2.4" fill="#30d0f0" fill-opacity="0.75"/>
<rect x="181.1" y="434.0" width="1.0" height="2.4" fill="#30d0f0" fill-opacity="0.75"/>
<rect x="182.5" y="434.0" width="1.0" height="2.4" fill="#30d0f0" fill-opacity="0.75"/>
<rect x="187.3" y="434.0" width="1.0" height="2.4" fill="#30d0f0" fill-opacity="0.75"/>
<rect x="190.2" y="434.0" width="1.0" height="2.4" fill="#30d0f0" fill-opacity="0.75"/>
<rect x="192.3" y="434.0" width="1.0" height="2.4" fill="#30d0f0" fill-opacity="0.75"/>
<rect x="201.0" y="434.0" width="1.0" height="2.4" fill="#30d0f0" fill-opacity="0.75"/>
<rect x="204.9" y="434.0" width="1.0" height="2.4" fill="#30d0f0" fill-opacity="0.75"/>
<rect x="210.0" y="434.0" width="1.0" height="2.4" fill="#30d0f0" fill-opacity="0.75"/>
<rect x="228.6" y="434.0" width="1.0" height="2.4" fill="#30d0f0" fill-opacity="0.75"/>
<rect x="238.2" y="434.0" width="1.0" height="2.4" fill="#30d0f0" fill-opacity="0.75"/>
<rect x="250.7" y="434.0" width="1.0" height="2.4" fill="#30d0f0" fill-opacity="0.75"/>
<rect x="255.4" y="434.0" width="1.0" height="2.4" fill="#30d0f0" fill-opacity="0.75"/>
<rect x="120.1" y="436.6" width="1.0" height="2.4" fill="#f03030" fill-opacity="0.75"/>
<rect x="168.0" y="436.6" width="1.0" height="2.4" fill="#f03030" fill-opacity="0.75"/>
<rect x="178.0" y="436.6" width="1.0" height="2.4" fill="#f03030" fill-opacity="0.75"/>
<rect x="181.1" y="436.6" width="1.0" height="2.4" fill="#f03030" fill-opacity="0.75"/>
<rect x="182.5" y="436.6" width="1.0" height="2.4" fill="#f03030" fill-opacity="0.75"/>
<rect x="187.3" y="436.6" width="1.0" height="2.4" fill="#f03030" fill-opacity="0.75"/>
<rect x="190.2" y="436.6" width="1.0" height="2.4" fill="#f03030" fill-opacity="0.75"/>
<rect x="192.3" y="436.6" width="1.0" height="2.4" fill="#f03030" fill-opacity="0.75"/>
<rect x="201.0" y="436.6" width="1.0" height="2.4" fill="#f03030" fill-opacity="0.75"/>
<rect x="204.9" y="436.6" width="1.0" height="2.4" fill="#f03030" fill-opacity="0.75"/>
<rect x="210.0" y="436.6" width="1.0" height="2.4" fill="#f03030" fill-opacity="0.75"/>
<rect x="228.6" y="436.6" width="1.0" height="2.4" fill="#f03030" fill-opacity="0.75"/>
<rect x="238.2" y="436.6" width="1.0" height="2.4" fill="#f03030" fill-opacity="0.75"/>
<rect x="250.7" y="436.6" width="1.0" height="2.4" fill="#f03030" fill-opacity="0.75"/>
<rect x="255.4" y="436.6" width="1.0" height="2.4" fill="#f03030" fill-opacity="0.75"/>
<rect x="112.9" y="439.6" width="1.0" height="2.4" fill="#20b040" fill-opacity="0.75"/>
<rect x="121.9" y="439.6" width="1.0" height="2.4" fill="#20b040" fill-opacity="0.75"/>
<rect x="137.0" y="439.6" width="1.0" height="2.4" fill="#20b040" fill-opacity="0.75"/>
<rect x="142.4" y="439.6" width="1.0" height="2.4" fill="#20b040" fill-opacity="0.75"/>
<rect x="166.0" y="439.6" width="1.0" height="2.4" fill="#20b040" fill-opacity="0.75"/>
<rect x="170.9" y="439.6" width="1.0" height="2.4" fill="#20b040" fill-opacity="0.75"/>
<rect x="174.6" y="439.6" width="1.0" height="2.4" fill="#20b040" fill-opacity="0.75"/>
<rect x="195.2" y="439.6" width="1.0" height="2.4" fill="#20b040" fill-opacity="0.75"/>
<rect x="204.3" y="439.6" width="1.0" height="2.4" fill="#20b040" fill-opacity="0.75"/>
<rect x="216.3" y="439.6" width="1.0" height="2.4" fill="#20b040" fill-opacity="0.75"/>
<rect x="216.6" y="439.6" width="1.0" height="2.4" fill="#20b040" fill-opacity="0.75"/>
<rect x="223.7" y="439.6" width="1.0" height="2.4" fill="#20b040" fill-opacity="0.75"/>
<rect x="228.8" y="439.6" width="1.0" height="2.4" fill="#20b040" fill-opacity="0.75"/>
<rect x="242.0" y="439.6" width="1.0" height="2.4" fill="#20b040" fill-opacity="0.75"/>
<rect x="247.1" y="439.6" width="1.0" height="2.4" fill="#20b040" fill-opacity="0.75"/>
<rect x="248.9" y="439.6" width="1.0" height="2.4" fill="#20b040" fill-opacity="0.75"/>
<rect x="108.5" y="442.2" width="1.0" height="2.4" fill="#f0f000" fill-opacity="0.75"/>
<rect x="108.3" y="442.2" width="1.0" height="2.4" fill="#f0f000" fill-opacity="0.75"/>
<rect x="119.2" y="442.2" width="1.0" height="2.4" fill="#f0f000" fill-opacity="0.75"/>
<rect x="121.9" y="442.2" width="1.0" height="2.4" fill="#f0f000" fill-opacity="0.75"/>
<rect x="133.0" y="442.2" width="1.0" height="2.4" fill="#f0f000" fill-opacity="0.75"/>
<rect x="141.3" y="442.2" width="1.0" height="2.4" fill="#f0f000" fill-opacity="0.75"/>
<rect x="162.4" y="442.2" width="1.0" height="2.4" fill="#f0f000" fill-opacity="0.75"/>
<rect x="168.0" y="442.2" width="1.0" height="2.4" fill="#f0f000" fill-opacity="0.75"/>
<rect x="178.0" y="442.2" width="1.0" height="2.4" fill="#f0f000" fill-opacity="0.75"/>
<rect x="181.1" y="442.2" width="1.0" height="2.4" fill="#f0f000" fill-opacity="0.75"/>
<rect x="182.5" y="442.2" width="1.0" height="2.4" fill="#f0f000" fill-opacity="0.75"/>
<rect x="187.3" y="442.2" width="1.0" height="2.4" fill="#f0f000" fill-opacity="0.75"/>
<rect x="190.2" y="442.2" width="1.0" height="2.4" fill="#f0f000" fill-opacity="0.75"/>
<rect x="192.3" y="442.2" width="1.0" height="2.4" fill="#f0f000" fill-opacity="0.75"/>
<rect x="201.0" y="442.2" width="1.0" height="2.4" fill="#f0f000" fill-opacity="0.75"/>
<rect x="204.9" y="442.2" width="1.0" height="2.4" fill="#f0f000" fill-opacity="0.75"/>
<rect x="210.0" y="442.2" width="1.0" height="2.4" fill="#f0f000" fill-opacity="0.75"/>
<rect x="225.3" y="442.2" width="1.0" height="2.4" fill="#f0f000" fill-opacity="0.75"/>
<rect x="228.6" y="442.2" width="1.0" height="2.4" fill="#f0f000" fill-opacity="0.75"/>
<rect x="232.9" y="442.2" width="1.0" height="2.4" fill="#f0f000" fill-opacity="0.75"/>
<rect x="235.8" y="442.2" width="1.0" height="2.4" fill="#f0f000" fill-opacity="0.75"/>
<rect x="238.2" y="442.2" width="1.0" height="2.4" fill="#f0f000" fill-opacity="0.75"/>
<rect x="250.0" y="442.2" width="1.0" height="2.4" fill="#f0f000" fill-opacity="0.75"/>
<rect x="250.7" y="442.2" width="1.0" height="2.4" fill="#f0f000" fill-opacity="0.75"/>
<rect x="255.4" y="442.2" width="1.0" height="2.4" fill="#f0f000" fill-opacity="0.75"/>
<rect x="60.6" y="445.2" width="1.0" height="2.4" fill="#9020a0" fill-opacity="0.75"/>
<rect x="70.9" y="445.2" width="1.0" height="2.4" fill="#9020a0" fill-opacity="0.75"/>
<rect x="80.4" y="445.2" width="1.0" height="2.4" fill="#9020a0" fill-opacity="0.75"/>
<rect x="88.9" y="445.2" width="1.0" height="2.4" fill="#9020a0" fill-opacity="0.75"/>
<rect x="96.9" y="445.2" width="1.0" height="2.4" fill="#9020a0" fill-opacity="0.75"/>
<rect x="99.4" y="445.2" width="1.0" height="2.4" fill="#9020a0" fill-opacity="0.75"/>
<rect x="103.6" y="445.2" width="1.0" height="2.4" fill="#9020a0" fill-opacity="0.75"/>
<rect x="106.3" y="445.2" width="1.0" height="2.4" fill="#9020a0" fill-opacity="0.75"/>
<rect x="106.9" y="445.2" width="1.0" height="2.4" fill="#9020a0" fill-opacity="0.75"/>
<rect x="111.9" y="445.2" width="1.0" height="2.4" fill="#9020a0" fill-opacity="0.75"/>
<rect x="113.8" y="445.2" width="1.0" height="2.4" fill="#9020a0" fill-opacity="0.75"/>
<rect x="117.5" y="445.2" width="1.0" height="2.4" fill="#9020a0" fill-opacity="0.75"/>
<rect x="120.7" y="445.2" width="1.0" height="2.4" fill="#9020a0" fill-opacity="0.75"/>
<rect x="121.7" y="445.2" width="1.0" height="2.4" fill="#9020a0" fill-opacity="0.75"/>
<rect x="128.3" y="445.2" width="1.0" height="2.4" fill="#9020a0" fill-opacity="0.75"/>
<rect x="130.5" y="445.2" width="1.0" height="2.4" fill="#9020a0" fill-opacity="0.75"/>
<rect x="137.7" y="445.2" width="1.0" height="2.4" fill="#9020a0" fill-opacity="0.75"/>
<rect x="140.2" y="445.2" width="1.0" height="2.4" fill="#9020a0" fill-opacity="0.75"/>
<rect x="150.9" y="445.2" width="1.0" height="2.4" fill="#9020a0" fill-opacity="0.75"/>
<rect x="156.2" y="445.2" width="1.0" height="2.4" fill="#9020a0" fill-opacity="0.75"/>
<rect x="162.0" y="445.2" width="1.0" height="2.4" fill="#9020a0" fill-opacity="0.75"/>
<rect x="164.5" y="445.2" width="1.0" height="2.4" fill="#9020a0" fill-opacity="0.75"/>
<rect x="168.4" y="445.2" width="1.0" height="2.4" fill="#9020a0" fill-opacity="0.75"/>
<rect x="171.7" y="445.2" width="1.0" height="2.4" fill="#9020a0" fill-opacity="0.75"/>
<rect x="173.8" y="445.2" width="1.0" height="2.4" fill="#9020a0" fill-opacity="0.75"/>
<rect x="178.2" y="445.2" width="1.0" height="2.4" fill="#9020a0" fill-opacity="0.75"/>
<rect x="181.1" y="445.2" width="1.0" height="2.4" fill="#9020a0" fill-opacity="0.75"/>
<rect x="187.3" y="445.2" width="1.0" height="2.4" fill="#9020a0" fill-opacity="0.75"/>
<rect x="190.5" y="445.2" width="1.0" height="2.4" fill="#9020a0" fill-opacity="0.75"/>
<rect x="193.4" y="445.2" width="1.0" height="2.4" fill="#9020a0" fill-opacity="0.75"/>
<rect x="199.2" y="445.2" width="1.0" height="2.4" fill="#9020a0" fill-opacity="0.75"/>
<rect x="201.4" y="445.2" width="1.0" height="2.4" fill="#9020a0" fill-opacity="0.75"/>
<rect x="204.3" y="445.2" width="1.0" height="2.4" fill="#9020a0" fill-opacity="0.75"/>
<rect x="209.0" y="445.2" width="1.0" height="2.4" fill="#9020a0" fill-opacity="0.75"/>
<rect x="213.0" y="445.2" width="1.0" height="2.4" fill="#9020a0" fill-opacity="0.75"/>
<rect x="217.7" y="445.2" width="1.0" height="2.4" fill="#9020a0" fill-opacity="0.75"/>
<rect x="217.9" y="445.2" width="1.0" height="2.4" fill="#9020a0" fill-opacity="0.75"/>
<rect x="224.0" y="445.2" width="1.0" height="2.4" fill="#9020a0" fill-opacity="0.75"/>
<rect x="226.4" y="445.2" width="1.0" height="2.4" fill="#9020a0" fill-opacity="0.75"/>
<rect x="228.8" y="445.2" width="1.0" height="2.4" fill="#9020a0" fill-opacity="0.75"/>
<rect x="231.1" y="445.2" width="1.0" height="2.4" fill="#9020a0" fill-opacity="0.75"/>
<rect x="232.5" y="445.2" width="1.0" height="2.4" fill="#9020a0" fill-opacity="0.75"/>
<rect x="235.5" y="445.2" width="1.0" height="2.4" fill="#9020a0" fill-opacity="0.75"/>
<rect x="245.2" y="445.2" width="1.0" height="2.4" fill="#9020a0" fill-opacity="0.75"/>
<rect x="247.1" y="445.2" width="1.0" height="2.4" fill="#9020a0" fill-opacity="0.75"/>
<rect x="250.7" y="445.2" width="1.0" height="2.4" fill="#9020a0" fill-opacity="0.75"/>
<rect x="255.4" y="445.2" width="1.0" height="2.4" fill="#9020a0" fill-opacity="0.75"/>
<rect x="256.5" y="445.2" width="1.0" height="2.4" fill="#9020a0" fill-opacity="0.75"/>
<rect x="259.4" y="445.2" width="1.0" height="2.4" fill="#9020a0" fill-opacity="0.75"/>
<rect x="262.3" y="445.2" width="1.0" height="2.4" fill="#9020a0" fill-opacity="0.75"/>
<rect x="503.9" y="433.8" width="1.1" height="2.5" fill="#f0a050" fill-opacity="0.75"/>
<rect x="504.8" y="433.8" width="1.1" height="2.5" fill="#f0a050" fill-opacity="0.75"/>
<rect x="508.6" y="433.8" width="1.1" height="2.5" fill="#f0a050" fill-opacity="0.75"/>
<rect x="519.2" y="433.8" width="1.1" height="2.5" fill="#f0a050" fill-opacity="0.75"/>
<rect x="522.5" y="433.8" width="1.1" height="2.5" fill="#f0a050" fill-opacity="0.75"/>
<rect x="534.1" y="433.8" width="1.1" height="2.5" fill="#f0a050" fill-opacity="0.75"/>
<rect x="548.2" y="433.8" width="1.1" height="2.5" fill="#f0a050" fill-opacity="0.75"/>
<rect x="567.3" y="433.8" width="1.1" height="2.5" fill="#f0a050" fill-opacity="0.75"/>
<rect x="572.0" y="433.8" width="1.1" height="2.5" fill="#f0a050" fill-opacity="0.75"/>
<rect x="574.2" y="433.8" width="1.1" height="2.5" fill="#f0a050" fill-opacity="0.75"/>
<rect x="575.3" y="433.8" width="1.1" height="2.5" fill="#f0a050" fill-opacity="0.75"/>
<rect x="588.0" y="433.8" width="1.1" height="2.5" fill="#f0a050" fill-opacity="0.75"/>
<rect x="593.8" y="433.8" width="1.1" height="2.5" fill="#f0a050" fill-opacity="0.75"/>
<rect x="603.6" y="433.8" width="1.1" height="2.5" fill="#f0a050" fill-opacity="0.75"/>
<rect x="616.9" y="433.8" width="1.1" height="2.5" fill="#f0a050" fill-opacity="0.75"/>
<rect x="619.8" y="433.8" width="1.1" height="2.5" fill="#f0a050" fill-opacity="0.75"/>
<rect x="629.9" y="433.8" width="1.1" height="2.5" fill="#f0a050" fill-opacity="0.75"/>
<rect x="636.1" y="433.8" width="1.1" height="2.5" fill="#f0a050" fill-opacity="0.75"/>
<rect x="637.9" y="433.8" width="1.1" height="2.5" fill="#f0a050" fill-opacity="0.75"/>
<rect x="647.0" y="433.8" width="1.1" height="2.5" fill="#f0a050" fill-opacity="0.75"/>
<rect x="652.8" y="433.8" width="1.1" height="2.5" fill="#f0a050" fill-opacity="0.75"/>
<rect x="658.6" y="433.8" width="1.1" height="2.5" fill="#f0a050" fill-opacity="0.75"/>
<rect x="661.2" y="433.8" width="1.1" height="2.5" fill="#f0a050" fill-opacity="0.75"/>
<rect x="666.2" y="433.8" width="1.1" height="2.5" fill="#f0a050" fill-opacity="0.75"/>
<rect x="666.1" y="433.8" width="1.1" height="2.5" fill="#f0a050" fill-opacity="0.75"/>
<rect x="666.8" y="433.8" width="1.1" height="2.5" fill="#f0a050" fill-opacity="0.75"/>
<rect x="671.2" y="433.8" width="1.1" height="2.5" fill="#f0a050" fill-opacity="0.75"/>
<rect x="673.9" y="433.8" width="1.1" height="2.5" fill="#f0a050" fill-opacity="0.75"/>
<rect x="684.2" y="433.8" width="1.1" height="2.5" fill="#f0a050" fill-opacity="0.75"/>
<rect x="691.1" y="433.8" width="1.1" height="2.5" fill="#f0a050" fill-opacity="0.75"/>
<rect x="695.1" y="433.8" width="1.1" height="2.5" fill="#f0a050" fill-opacity="0.75"/>
<rect x="700.9" y="433.8" width="1.1" height="2.5" fill="#f0a050" fill-opacity="0.75"/>
<rect x="702.4" y="433.8" width="1.1" height="2.5" fill="#f0a050" fill-opacity="0.75"/>
<rect x="703.8" y="433.8" width="1.1" height="2.5" fill="#f0a050" fill-opacity="0.75"/>
<rect x="708.9" y="433.8" width="1.1" height="2.5" fill="#f0a050" fill-opacity="0.75"/>
<rect x="711.1" y="433.8" width="1.1" height="2.5" fill="#f0a050" fill-opacity="0.75"/>
<rect x="714.7" y="433.8" width="1.1" height="2.5" fill="#f0a050" fill-opacity="0.75"/>
<rect x="675.9" y="433.8" width="1.1" height="2.5" fill="#f0a050" fill-opacity="0.75"/>
<rect x="692.2" y="433.8" width="1.1" height="2.5" fill="#f0a050" fill-opacity="0.75"/>
<rect x="695.8" y="433.8" width="1.1" height="2.5" fill="#f0a050" fill-opacity="0.75"/>
<rect x="517.8" y="436.6" width="1.1" height="2.5" fill="#30d0f0" fill-opacity="0.75"/>
<rect x="520.7" y="436.6" width="1.1" height="2.5" fill="#30d0f0" fill-opacity="0.75"/>
<rect x="522.5" y="436.6" width="1.1" height="2.5" fill="#30d0f0" fill-opacity="0.75"/>
<rect x="534.1" y="436.6" width="1.1" height="2.5" fill="#30d0f0" fill-opacity="0.75"/>
<rect x="538.9" y="436.6" width="1.1" height="2.5" fill="#30d0f0" fill-opacity="0.75"/>
<rect x="547.2" y="436.6" width="1.1" height="2.5" fill="#30d0f0" fill-opacity="0.75"/>
<rect x="551.2" y="436.6" width="1.1" height="2.5" fill="#30d0f0" fill-opacity="0.75"/>
<rect x="552.7" y="436.6" width="1.1" height="2.5" fill="#30d0f0" fill-opacity="0.75"/>
<rect x="555.2" y="436.6" width="1.1" height="2.5" fill="#30d0f0" fill-opacity="0.75"/>
<rect x="553.2" y="436.6" width="1.1" height="2.5" fill="#30d0f0" fill-opacity="0.75"/>
<rect x="555.0" y="436.6" width="1.1" height="2.5" fill="#30d0f0" fill-opacity="0.75"/>
<rect x="563.7" y="436.6" width="1.1" height="2.5" fill="#30d0f0" fill-opacity="0.75"/>
<rect x="566.6" y="436.6" width="1.1" height="2.5" fill="#30d0f0" fill-opacity="0.75"/>
<rect x="606.9" y="436.6" width="1.1" height="2.5" fill="#30d0f0" fill-opacity="0.75"/>
<rect x="637.6" y="436.6" width="1.1" height="2.5" fill="#30d0f0" fill-opacity="0.75"/>
<rect x="640.5" y="436.6" width="1.1" height="2.5" fill="#30d0f0" fill-opacity="0.75"/>
<rect x="655.0" y="436.6" width="1.1" height="2.5" fill="#30d0f0" fill-opacity="0.75"/>
<rect x="657.5" y="436.6" width="1.1" height="2.5" fill="#30d0f0" fill-opacity="0.75"/>
<rect x="661.9" y="436.6" width="1.1" height="2.5" fill="#30d0f0" fill-opacity="0.75"/>
<rect x="673.3" y="436.6" width="1.1" height="2.5" fill="#30d0f0" fill-opacity="0.75"/>
<rect x="676.2" y="436.6" width="1.1" height="2.5" fill="#30d0f0" fill-opacity="0.75"/>
<rect x="681.3" y="436.6" width="1.1" height="2.5" fill="#30d0f0" fill-opacity="0.75"/>
<rect x="688.6" y="436.6" width="1.1" height="2.5" fill="#30d0f0" fill-opacity="0.75"/>
<rect x="692.2" y="436.6" width="1.1" height="2.5" fill="#30d0f0" fill-opacity="0.75"/>
<rect x="693.3" y="436.6" width="1.1" height="2.5" fill="#30d0f0" fill-opacity="0.75"/>
<rect x="695.8" y="436.6" width="1.1" height="2.5" fill="#30d0f0" fill-opacity="0.75"/>
<rect x="696.9" y="436.6" width="1.1" height="2.5" fill="#30d0f0" fill-opacity="0.75"/>
<rect x="699.5" y="436.6" width="1.1" height="2.5" fill="#30d0f0" fill-opacity="0.75"/>
<rect x="702.0" y="436.6" width="1.1" height="2.5" fill="#30d0f0" fill-opacity="0.75"/>
<rect x="711.8" y="436.6" width="1.1" height="2.5" fill="#30d0f0" fill-opacity="0.75"/>
<rect x="714.7" y="436.6" width="1.1" height="2.5" fill="#30d0f0" fill-opacity="0.75"/>
<rect x="503.9" y="439.6" width="1.1" height="2.5" fill="#f04040" fill-opacity="0.75"/>
<rect x="508.6" y="439.6" width="1.1" height="2.5" fill="#f04040" fill-opacity="0.75"/>
<rect x="519.2" y="439.6" width="1.1" height="2.5" fill="#f04040" fill-opacity="0.75"/>
<rect x="522.5" y="439.6" width="1.1" height="2.5" fill="#f04040" fill-opacity="0.75"/>
<rect x="534.1" y="439.6" width="1.1" height="2.5" fill="#f04040" fill-opacity="0.75"/>
<rect x="548.2" y="439.6" width="1.1" height="2.5" fill="#f04040" fill-opacity="0.75"/>
<rect x="567.3" y="439.6" width="1.1" height="2.5" fill="#f04040" fill-opacity="0.75"/>
<rect x="572.0" y="439.6" width="1.1" height="2.5" fill="#f04040" fill-opacity="0.75"/>
<rect x="574.2" y="439.6" width="1.1" height="2.5" fill="#f04040" fill-opacity="0.75"/>
<rect x="575.3" y="439.6" width="1.1" height="2.5" fill="#f04040" fill-opacity="0.75"/>
<rect x="588.0" y="439.6" width="1.1" height="2.5" fill="#f04040" fill-opacity="0.75"/>
<rect x="593.8" y="439.6" width="1.1" height="2.5" fill="#f04040" fill-opacity="0.75"/>
<rect x="603.6" y="439.6" width="1.1" height="2.5" fill="#f04040" fill-opacity="0.75"/>
<rect x="616.9" y="439.6" width="1.1" height="2.5" fill="#f04040" fill-opacity="0.75"/>
<rect x="619.8" y="439.6" width="1.1" height="2.5" fill="#f04040" fill-opacity="0.75"/>
<rect x="629.9" y="439.6" width="1.1" height="2.5" fill="#f04040" fill-opacity="0.75"/>
<rect x="636.1" y="439.6" width="1.1" height="2.5" fill="#f04040" fill-opacity="0.75"/>
<rect x="637.9" y="439.6" width="1.1" height="2.5" fill="#f04040" fill-opacity="0.75"/>
<rect x="647.0" y="439.6" width="1.1" height="2.5" fill="#f04040" fill-opacity="0.75"/>
<rect x="652.8" y="439.6" width="1.1" height="2.5" fill="#f04040" fill-opacity="0.75"/>
<rect x="658.6" y="439.6" width="1.1" height="2.5" fill="#f04040" fill-opacity="0.75"/>
<rect x="661.2" y="439.6" width="1.1" height="2.5" fill="#f04040" fill-opacity="0.75"/>
<rect x="666.2" y="439.6" width="1.1" height="2.5" fill="#f04040" fill-opacity="0.75"/>
<rect x="666.1" y="439.6" width="1.1" height="2.5" fill="#f04040" fill-opacity="0.75"/>
<rect x="666.8" y="439.6" width="1.1" height="2.5" fill="#f04040" fill-opacity="0.75"/>
<rect x="671.2" y="439.6" width="1.1" height="2.5" fill="#f04040" fill-opacity="0.75"/>
<rect x="673.9" y="439.6" width="1.1" height="2.5" fill="#f04040" fill-opacity="0.75"/>
<rect x="684.2" y="439.6" width="1.1" height="2.5" fill="#f04040" fill-opacity="0.75"/>
<rect x="691.1" y="439.6" width="1.1" height="2.5" fill="#f04040" fill-opacity="0.75"/>
<rect x="695.1" y="439.6" width="1.1" height="2.5" fill="#f04040" fill-opacity="0.75"/>
<rect x="700.9" y="439.6" width="1.1" height="2.5" fill="#f04040" fill-opacity="0.75"/>
<rect x="702.4" y="439.6" width="1.1" height="2.5" fill="#f04040" fill-opacity="0.75"/>
<rect x="703.8" y="439.6" width="1.1" height="2.5" fill="#f04040" fill-opacity="0.75"/>
<rect x="708.9" y="439.6" width="1.1" height="2.5" fill="#f04040" fill-opacity="0.75"/>
<rect x="711.1" y="439.6" width="1.1" height="2.5" fill="#f04040" fill-opacity="0.75"/>
<rect x="714.7" y="439.6" width="1.1" height="2.5" fill="#f04040" fill-opacity="0.75"/>
<rect x="503.9" y="442.4" width="1.1" height="2.5" fill="#30c050" fill-opacity="0.75"/>
<rect x="508.6" y="442.4" width="1.1" height="2.5" fill="#30c050" fill-opacity="0.75"/>
<rect x="519.2" y="442.4" width="1.1" height="2.5" fill="#30c050" fill-opacity="0.75"/>
<rect x="522.5" y="442.4" width="1.1" height="2.5" fill="#30c050" fill-opacity="0.75"/>
<rect x="534.1" y="442.4" width="1.1" height="2.5" fill="#30c050" fill-opacity="0.75"/>
<rect x="548.2" y="442.4" width="1.1" height="2.5" fill="#30c050" fill-opacity="0.75"/>
<rect x="572.0" y="442.4" width="1.1" height="2.5" fill="#30c050" fill-opacity="0.75"/>
<rect x="574.2" y="442.4" width="1.1" height="2.5" fill="#30c050" fill-opacity="0.75"/>
<rect x="575.3" y="442.4" width="1.1" height="2.5" fill="#30c050" fill-opacity="0.75"/>
<rect x="588.0" y="442.4" width="1.1" height="2.5" fill="#30c050" fill-opacity="0.75"/>
<rect x="593.8" y="442.4" width="1.1" height="2.5" fill="#30c050" fill-opacity="0.75"/>
<rect x="603.6" y="442.4" width="1.1" height="2.5" fill="#30c050" fill-opacity="0.75"/>
<rect x="616.9" y="442.4" width="1.1" height="2.5" fill="#30c050" fill-opacity="0.75"/>
<rect x="619.8" y="442.4" width="1.1" height="2.5" fill="#30c050" fill-opacity="0.75"/>
<rect x="629.9" y="442.4" width="1.1" height="2.5" fill="#30c050" fill-opacity="0.75"/>
<rect x="636.1" y="442.4" width="1.1" height="2.5" fill="#30c050" fill-opacity="0.75"/>
<rect x="637.9" y="442.4" width="1.1" height="2.5" fill="#30c050" fill-opacity="0.75"/>
<rect x="647.0" y="442.4" width="1.1" height="2.5" fill="#30c050" fill-opacity="0.75"/>
<rect x="652.8" y="442.4" width="1.1" height="2.5" fill="#30c050" fill-opacity="0.75"/>
<rect x="658.6" y="442.4" width="1.1" height="2.5" fill="#30c050" fill-opacity="0.75"/>
<rect x="661.2" y="442.4" width="1.1" height="2.5" fill="#30c050" fill-opacity="0.75"/>
<rect x="666.2" y="442.4" width="1.1" height="2.5" fill="#30c050" fill-opacity="0.75"/>
<rect x="666.1" y="442.4" width="1.1" height="2.5" fill="#30c050" fill-opacity="0.75"/>
<rect x="666.8" y="442.4" width="1.1" height="2.5" fill="#30c050" fill-opacity="0.75"/>
<rect x="671.2" y="442.4" width="1.1" height="2.5" fill="#30c050" fill-opacity="0.75"/>
<rect x="673.9" y="442.4" width="1.1" height="2.5" fill="#30c050" fill-opacity="0.75"/>
<rect x="684.2" y="442.4" width="1.1" height="2.5" fill="#30c050" fill-opacity="0.75"/>
<rect x="691.1" y="442.4" width="1.1" height="2.5" fill="#30c050" fill-opacity="0.75"/>
<rect x="695.1" y="442.4" width="1.1" height="2.5" fill="#30c050" fill-opacity="0.75"/>
<rect x="700.9" y="442.4" width="1.1" height="2.5" fill="#30c050" fill-opacity="0.75"/>
<rect x="702.4" y="442.4" width="1.1" height="2.5" fill="#30c050" fill-opacity="0.75"/>
<rect x="703.8" y="442.4" width="1.1" height="2.5" fill="#30c050" fill-opacity="0.75"/>
<rect x="708.9" y="442.4" width="1.1" height="2.5" fill="#30c050" fill-opacity="0.75"/>
<rect x="711.1" y="442.4" width="1.1" height="2.5" fill="#30c050" fill-opacity="0.75"/>
<rect x="714.7" y="442.4" width="1.1" height="2.5" fill="#30c050" fill-opacity="0.75"/>
<rect x="503.9" y="445.1" width="1.1" height="2.5" fill="#f0f000" fill-opacity="0.75"/>
<rect x="508.6" y="445.1" width="1.1" height="2.5" fill="#f0f000" fill-opacity="0.75"/>
<rect x="513.1" y="445.1" width="1.1" height="2.5" fill="#f0f000" fill-opacity="0.75"/>
<rect x="519.2" y="445.1" width="1.1" height="2.5" fill="#f0f000" fill-opacity="0.75"/>
<rect x="522.5" y="445.1" width="1.1" height="2.5" fill="#f0f000" fill-opacity="0.75"/>
<rect x="534.1" y="445.1" width="1.1" height="2.5" fill="#f0f000" fill-opacity="0.75"/>
<rect x="540.0" y="445.1" width="1.1" height="2.5" fill="#f0f000" fill-opacity="0.75"/>
<rect x="548.2" y="445.1" width="1.1" height="2.5" fill="#f0f000" fill-opacity="0.75"/>
<rect x="567.3" y="445.1" width="1.1" height="2.5" fill="#f0f000" fill-opacity="0.75"/>
<rect x="572.0" y="445.1" width="1.1" height="2.5" fill="#f0f000" fill-opacity="0.75"/>
<rect x="574.2" y="445.1" width="1.1" height="2.5" fill="#f0f000" fill-opacity="0.75"/>
<rect x="575.3" y="445.1" width="1.1" height="2.5" fill="#f0f000" fill-opacity="0.75"/>
<rect x="588.0" y="445.1" width="1.1" height="2.5" fill="#f0f000" fill-opacity="0.75"/>
<rect x="593.8" y="445.1" width="1.1" height="2.5" fill="#f0f000" fill-opacity="0.75"/>
<rect x="603.6" y="445.1" width="1.1" height="2.5" fill="#f0f000" fill-opacity="0.75"/>
<rect x="616.9" y="445.1" width="1.1" height="2.5" fill="#f0f000" fill-opacity="0.75"/>
<rect x="619.8" y="445.1" width="1.1" height="2.5" fill="#f0f000" fill-opacity="0.75"/>
<rect x="629.9" y="445.1" width="1.1" height="2.5" fill="#f0f000" fill-opacity="0.75"/>
<rect x="636.1" y="445.1" width="1.1" height="2.5" fill="#f0f000" fill-opacity="0.75"/>
<rect x="637.9" y="445.1" width="1.1" height="2.5" fill="#f0f000" fill-opacity="0.75"/>
<rect x="647.0" y="445.1" width="1.1" height="2.5" fill="#f0f000" fill-opacity="0.75"/>
<rect x="652.8" y="445.1" width="1.1" height="2.5" fill="#f0f000" fill-opacity="0.75"/>
<rect x="658.6" y="445.1" width="1.1" height="2.5" fill="#f0f000" fill-opacity="0.75"/>
<rect x="661.2" y="445.1" width="1.1" height="2.5" fill="#f0f000" fill-opacity="0.75"/>
<rect x="666.2" y="445.1" width="1.1" height="2.5" fill="#f0f000" fill-opacity="0.75"/>
<rect x="626.3" y="445.1" width="1.1" height="2.5" fill="#f0f000" fill-opacity="0.75"/>
<rect x="666.1" y="445.1" width="1.1" height="2.5" fill="#f0f000" fill-opacity="0.75"/>
<rect x="666.8" y="445.1" width="1.1" height="2.5" fill="#f0f000" fill-opacity="0.75"/>
<rect x="671.2" y="445.1" width="1.1" height="2.5" fill="#f0f000" fill-opacity="0.75"/>
<rect x="673.9" y="445.1" width="1.1" height="2.5" fill="#f0f000" fill-opacity="0.75"/>
<rect x="684.2" y="445.1" width="1.1" height="2.5" fill="#f0f000" fill-opacity="0.75"/>
<rect x="691.1" y="445.1" width="1.1" height="2.5" fill="#f0f000" fill-opacity="0.75"/>
<rect x="695.1" y="445.1" width="1.1" height="2.5" fill="#f0f000" fill-opacity="0.75"/>
<rect x="700.9" y="445.1" width="1.1" height="2.5" fill="#f0f000" fill-opacity="0.75"/>
<rect x="702.4" y="445.1" width="1.1" height="2.5" fill="#f0f000" fill-opacity="0.75"/>
<rect x="703.8" y="445.1" width="1.1" height="2.5" fill="#f0f000" fill-opacity="0.75"/>
<rect x="708.9" y="445.1" width="1.1" height="2.5" fill="#f0f000" fill-opacity="0.75"/>
<rect x="711.1" y="445.1" width="1.1" height="2.5" fill="#f0f000" fill-opacity="0.75"/>
<rect x="714.7" y="445.1" width="1.1" height="2.5" fill="#f0f000" fill-opacity="0.75"/>
<rect x="676.2" y="445.1" width="1.1" height="2.5" fill="#f0f000" fill-opacity="0.75"/>
<rect x="692.2" y="445.1" width="1.1" height="2.5" fill="#f0f000" fill-opacity="0.75"/>
<rect x="695.8" y="445.1" width="1.1" height="2.5" fill="#f0f000" fill-opacity="0.75"/>
<rect x="500.3" y="448.1" width="1.1" height="2.5" fill="#801480" fill-opacity="0.75"/>
<rect x="501.4" y="448.1" width="1.1" height="2.5" fill="#801480" fill-opacity="0.75"/>
<rect x="503.9" y="448.1" width="1.1" height="2.5" fill="#801480" fill-opacity="0.75"/>
<rect x="507.2" y="448.1" width="1.1" height="2.5" fill="#801480" fill-opacity="0.75"/>
<rect x="509.1" y="448.1" width="1.1" height="2.5" fill="#801480" fill-opacity="0.75"/>
<rect x="514.2" y="448.1" width="1.1" height="2.5" fill="#801480" fill-opacity="0.75"/>
<rect x="515.6" y="448.1" width="1.1" height="2.5" fill="#801480" fill-opacity="0.75"/>
<rect x="518.2" y="448.1" width="1.1" height="2.5" fill="#801480" fill-opacity="0.75"/>
<rect x="520.7" y="448.1" width="1.1" height="2.5" fill="#801480" fill-opacity="0.75"/>
<rect x="522.2" y="448.1" width="1.1" height="2.5" fill="#801480" fill-opacity="0.75"/>
<rect x="529.4" y="448.1" width="1.1" height="2.5" fill="#801480" fill-opacity="0.75"/>
<rect x="531.2" y="448.1" width="1.1" height="2.5" fill="#801480" fill-opacity="0.75"/>
<rect x="534.5" y="448.1" width="1.1" height="2.5" fill="#801480" fill-opacity="0.75"/>
<rect x="537.8" y="448.1" width="1.1" height="2.5" fill="#801480" fill-opacity="0.75"/>
<rect x="538.5" y="448.1" width="1.1" height="2.5" fill="#801480" fill-opacity="0.75"/>
<rect x="542.9" y="448.1" width="1.1" height="2.5" fill="#801480" fill-opacity="0.75"/>
<rect x="547.6" y="448.1" width="1.1" height="2.5" fill="#801480" fill-opacity="0.75"/>
<rect x="551.2" y="448.1" width="1.1" height="2.5" fill="#801480" fill-opacity="0.75"/>
<rect x="552.7" y="448.1" width="1.1" height="2.5" fill="#801480" fill-opacity="0.75"/>
<rect x="555.6" y="448.1" width="1.1" height="2.5" fill="#801480" fill-opacity="0.75"/>
<rect x="552.8" y="448.1" width="1.1" height="2.5" fill="#801480" fill-opacity="0.75"/>
<rect x="555.4" y="448.1" width="1.1" height="2.5" fill="#801480" fill-opacity="0.75"/>
<rect x="561.2" y="448.1" width="1.1" height="2.5" fill="#801480" fill-opacity="0.75"/>
<rect x="562.6" y="448.1" width="1.1" height="2.5" fill="#801480" fill-opacity="0.75"/>
<rect x="564.1" y="448.1" width="1.1" height="2.5" fill="#801480" fill-opacity="0.75"/>
<rect x="565.5" y="448.1" width="1.1" height="2.5" fill="#801480" fill-opacity="0.75"/>
<rect x="568.1" y="448.1" width="1.1" height="2.5" fill="#801480" fill-opacity="0.75"/>
<rect x="570.6" y="448.1" width="1.1" height="2.5" fill="#801480" fill-opacity="0.75"/>
<rect x="572.8" y="448.1" width="1.1" height="2.5" fill="#801480" fill-opacity="0.75"/>
<rect x="574.2" y="448.1" width="1.1" height="2.5" fill="#801480" fill-opacity="0.75"/>
<rect x="575.7" y="448.1" width="1.1" height="2.5" fill="#801480" fill-opacity="0.75"/>
<rect x="577.8" y="448.1" width="1.1" height="2.5" fill="#801480" fill-opacity="0.75"/>
<rect x="580.4" y="448.1" width="1.1" height="2.5" fill="#801480" fill-opacity="0.75"/>
<rect x="582.2" y="448.1" width="1.1" height="2.5" fill="#801480" fill-opacity="0.75"/>
<rect x="584.7" y="448.1" width="1.1" height="2.5" fill="#801480" fill-opacity="0.75"/>
<rect x="586.6" y="448.1" width="1.1" height="2.5" fill="#801480" fill-opacity="0.75"/>
<rect x="590.9" y="448.1" width="1.1" height="2.5" fill="#801480" fill-opacity="0.75"/>
<rect x="592.0" y="448.1" width="1.1" height="2.5" fill="#801480" fill-opacity="0.75"/>
<rect x="594.2" y="448.1" width="1.1" height="2.5" fill="#801480" fill-opacity="0.75"/>
<rect x="596.7" y="448.1" width="1.1" height="2.5" fill="#801480" fill-opacity="0.75"/>
<rect x="606.5" y="448.1" width="1.1" height="2.5" fill="#801480" fill-opacity="0.75"/>
<rect x="608.3" y="448.1" width="1.1" height="2.5" fill="#801480" fill-opacity="0.75"/>
<rect x="610.5" y="448.1" width="1.1" height="2.5" fill="#801480" fill-opacity="0.75"/>
<rect x="609.6" y="448.1" width="1.1" height="2.5" fill="#801480" fill-opacity="0.75"/>
<rect x="610.7" y="448.1" width="1.1" height="2.5" fill="#801480" fill-opacity="0.75"/>
<rect x="614.7" y="448.1" width="1.1" height="2.5" fill="#801480" fill-opacity="0.75"/>
<rect x="617.2" y="448.1" width="1.1" height="2.5" fill="#801480" fill-opacity="0.75"/>
<rect x="619.8" y="448.1" width="1.1" height="2.5" fill="#801480" fill-opacity="0.75"/>
<rect x="622.7" y="448.1" width="1.1" height="2.5" fill="#801480" fill-opacity="0.75"/>
<rect x="624.9" y="448.1" width="1.1" height="2.5" fill="#801480" fill-opacity="0.75"/>
<rect x="628.5" y="448.1" width="1.1" height="2.5" fill="#801480" fill-opacity="0.75"/>
<rect x="630.7" y="448.1" width="1.1" height="2.5" fill="#801480" fill-opacity="0.75"/>
<rect x="633.2" y="448.1" width="1.1" height="2.5" fill="#801480" fill-opacity="0.75"/>
<rect x="636.5" y="448.1" width="1.1" height="2.5" fill="#801480" fill-opacity="0.75"/>
<rect x="639.4" y="448.1" width="1.1" height="2.5" fill="#801480" fill-opacity="0.75"/>
<rect x="642.6" y="448.1" width="1.1" height="2.5" fill="#801480" fill-opacity="0.75"/>
<rect x="645.2" y="448.1" width="1.1" height="2.5" fill="#801480" fill-opacity="0.75"/>
<rect x="647.4" y="448.1" width="1.1" height="2.5" fill="#801480" fill-opacity="0.75"/>
<rect x="649.5" y="448.1" width="1.1" height="2.5" fill="#801480" fill-opacity="0.75"/>
<rect x="652.1" y="448.1" width="1.1" height="2.5" fill="#801480" fill-opacity="0.75"/>
<rect x="655.3" y="448.1" width="1.1" height="2.5" fill="#801480" fill-opacity="0.75"/>
<rect x="657.9" y="448.1" width="1.1" height="2.5" fill="#801480" fill-opacity="0.75"/>
<rect x="661.2" y="448.1" width="1.1" height="2.5" fill="#801480" fill-opacity="0.75"/>
<rect x="663.7" y="448.1" width="1.1" height="2.5" fill="#801480" fill-opacity="0.75"/>
<rect x="666.2" y="448.1" width="1.1" height="2.5" fill="#801480" fill-opacity="0.75"/>
<rect x="663.2" y="448.1" width="1.1" height="2.5" fill="#801480" fill-opacity="0.75"/>
<rect x="665.4" y="448.1" width="1.1" height="2.5" fill="#801480" fill-opacity="0.75"/>
<rect x="668.3" y="448.1" width="1.1" height="2.5" fill="#801480" fill-opacity="0.75"/>
<rect x="669.7" y="448.1" width="1.1" height="2.5" fill="#801480" fill-opacity="0.75"/>
<rect x="671.2" y="448.1" width="1.1" height="2.5" fill="#801480" fill-opacity="0.75"/>
<rect x="673.3" y="448.1" width="1.1" height="2.5" fill="#801480" fill-opacity="0.75"/>
<rect x="677.0" y="448.1" width="1.1" height="2.5" fill="#801480" fill-opacity="0.75"/>
<rect x="679.1" y="448.1" width="1.1" height="2.5" fill="#801480" fill-opacity="0.75"/>
<rect x="681.3" y="448.1" width="1.1" height="2.5" fill="#801480" fill-opacity="0.75"/>
<rect x="684.2" y="448.1" width="1.1" height="2.5" fill="#801480" fill-opacity="0.75"/>
<rect x="685.7" y="448.1" width="1.1" height="2.5" fill="#801480" fill-opacity="0.75"/>
<rect x="687.1" y="448.1" width="1.1" height="2.5" fill="#801480" fill-opacity="0.75"/>
<rect x="691.1" y="448.1" width="1.1" height="2.5" fill="#801480" fill-opacity="0.75"/>
<rect x="694.4" y="448.1" width="1.1" height="2.5" fill="#801480" fill-opacity="0.75"/>
<rect x="696.2" y="448.1" width="1.1" height="2.5" fill="#801480" fill-opacity="0.75"/>
<rect x="698.0" y="448.1" width="1.1" height="2.5" fill="#801480" fill-opacity="0.75"/>
<rect x="700.2" y="448.1" width="1.1" height="2.5" fill="#801480" fill-opacity="0.75"/>
<rect x="703.5" y="448.1" width="1.1" height="2.5" fill="#801480" fill-opacity="0.75"/>
<rect x="705.3" y="448.1" width="1.1" height="2.5" fill="#801480" fill-opacity="0.75"/>
<rect x="707.4" y="448.1" width="1.1" height="2.5" fill="#801480" fill-opacity="0.75"/>
<rect x="710.3" y="448.1" width="1.1" height="2.5" fill="#801480" fill-opacity="0.75"/>
<rect x="712.5" y="448.1" width="1.1" height="2.5" fill="#801480" fill-opacity="0.75"/>
<rect x="714.0" y="448.1" width="1.1" height="2.5" fill="#801480" fill-opacity="0.75"/>
</svg>
</body></html>
